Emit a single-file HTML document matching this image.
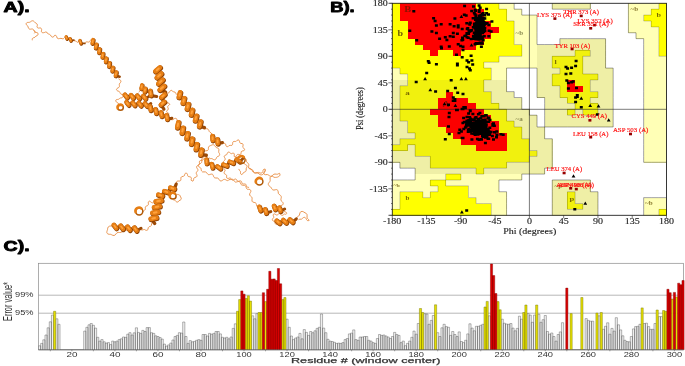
<!DOCTYPE html><html><head><meta charset="utf-8"><title>Figure</title><style>html,body{margin:0;padding:0;background:#fff}body{width:685px;height:366px;overflow:hidden}svg{display:block}</style></head><body>
<svg width="685" height="366" viewBox="0 0 685 366">
<rect width="685" height="366" fill="#fff"/>
<g fill="none" stroke-linecap="round" stroke-linejoin="round">
<path d="M32.3 39.9C32.3 39.7 32.2 39.0 32.3 38.7C32.5 38.3 33.0 38.0 33.3 37.8C33.6 37.7 33.8 37.8 34.1 37.7C34.4 37.5 34.9 37.2 35.2 37.0C35.5 36.7 35.8 36.4 36.0 36.1C36.3 35.9 36.6 35.8 36.9 35.6C37.2 35.3 37.9 35.2 38.0 34.8C38.2 34.4 38.2 33.7 38.0 33.3C37.8 32.9 37.3 32.8 36.8 32.6C36.4 32.4 35.9 32.4 35.5 32.3C35.1 32.1 34.8 31.9 34.5 31.6C34.3 31.3 34.2 30.7 34.0 30.4C33.7 30.0 33.5 29.5 33.1 29.3C32.8 29.0 32.3 29.0 31.9 29.0C31.5 28.9 31.0 29.2 30.5 29.2C30.1 29.2 29.6 29.2 29.3 29.0C28.9 28.8 28.6 28.3 28.4 27.9C28.2 27.5 28.2 27.0 28.0 26.7C27.8 26.3 27.7 26.0 27.4 25.7C27.1 25.4 26.6 25.2 26.5 24.9C26.3 24.5 26.1 23.8 26.2 23.4C26.4 23.0 26.9 22.6 27.3 22.5C27.7 22.3 28.3 22.4 28.7 22.4C29.1 22.3 29.4 22.4 29.8 22.2C30.2 22.1 30.5 21.7 30.9 21.5C31.2 21.3 31.6 20.9 32.1 20.8C32.5 20.7 32.9 20.8 33.3 20.9C33.7 21.1 34.1 21.5 34.4 21.8C34.7 22.1 34.9 22.4 35.2 22.7C35.4 22.9 35.8 22.9 36.1 23.2C36.5 23.4 36.9 23.8 37.1 24.1C37.3 24.5 37.4 24.9 37.4 25.3C37.4 25.7 37.0 26.1 37.0 26.6C37.1 27.0 37.4 27.6 37.7 27.9C38.0 28.1 38.5 28.1 39.0 28.1C39.4 28.1 39.9 27.8 40.3 27.9C40.8 28.0 41.3 28.4 41.5 28.8C41.7 29.1 41.6 29.7 41.6 30.1C41.6 30.6 41.3 31.2 41.4 31.6C41.5 32.0 41.9 32.5 42.3 32.6C42.7 32.8 43.3 32.8 43.7 32.7C44.1 32.7 44.4 32.5 44.7 32.4C45.0 32.2 45.3 32.0 45.7 32.0C46.0 32.0 46.6 32.1 46.9 32.3C47.2 32.5 47.1 32.9 47.3 33.2C47.6 33.5 48.0 33.7 48.4 33.9C48.8 34.1 49.3 34.2 49.6 34.4C50.0 34.6 50.2 34.8 50.5 35.1C50.8 35.4 50.9 35.9 51.2 36.2C51.5 36.6 51.8 37.1 52.3 37.1C52.7 37.2 53.3 37.0 53.7 36.7C54.1 36.4 54.1 35.6 54.5 35.4C54.9 35.2 55.7 35.3 56.1 35.6C56.5 35.8 56.5 36.4 56.7 36.8C56.9 37.2 57.0 37.7 57.2 38.1C57.5 38.4 58.0 38.6 58.4 38.7C58.9 38.8 59.4 38.5 59.8 38.5C60.2 38.4 60.6 38.3 61.0 38.3C61.4 38.4 61.6 38.6 62.0 38.7C62.4 38.8 63.1 38.8 63.4 38.7C63.8 38.6 64.0 38.1 64.3 37.8C64.6 37.5 65.0 37.1 65.1 36.9M33.9 30.4C34.1 30.5 34.6 31.0 34.8 31.3C35.1 31.5 35.4 31.7 35.3 32.0C35.2 32.3 34.6 32.8 34.5 33.0M74.1 40.7C74.3 40.8 75.1 40.9 75.5 41.0C76.0 41.2 76.3 41.5 76.7 41.7C77.1 42.0 77.7 42.5 78.1 42.3C78.4 42.2 78.6 41.2 78.7 41.0M85.6 42.3C85.8 42.2 86.5 41.8 87.0 41.8C87.4 41.8 88.0 42.2 88.5 42.1C89.0 42.1 89.6 41.7 89.9 41.3C90.2 41.0 90.4 40.1 90.5 39.9M118.9 78.8C119.0 79.0 119.3 79.5 119.6 79.8C120.0 80.1 120.6 80.2 120.8 80.6C121.0 81.0 121.0 81.6 120.8 82.0C120.7 82.5 120.1 82.8 119.9 83.1C119.6 83.5 119.4 83.7 119.3 84.1C119.2 84.5 119.4 85.0 119.4 85.5C119.4 86.0 119.5 86.5 119.3 86.9C119.1 87.3 118.8 87.5 118.4 87.7C118.0 88.0 117.4 88.1 117.0 88.5C116.7 88.8 116.4 89.4 116.5 89.8C116.6 90.2 117.2 90.7 117.6 90.9C118.0 91.2 118.5 91.0 118.9 91.2C119.2 91.4 119.4 91.7 119.7 92.1C119.9 92.4 120.1 93.1 120.3 93.4C120.6 93.8 120.8 94.0 121.1 94.2C121.4 94.4 121.9 94.4 122.2 94.7C122.6 95.0 123.1 95.5 123.1 95.9C123.2 96.4 122.9 96.9 122.6 97.3C122.3 97.6 121.6 97.8 121.2 97.9C120.9 98.0 120.7 97.8 120.4 98.0C120.1 98.1 119.7 98.5 119.3 98.7C118.9 99.0 118.5 99.4 118.1 99.5C117.7 99.6 117.4 99.4 117.1 99.4C116.7 99.5 116.1 99.7 115.9 100.0C115.7 100.3 115.7 101.0 115.9 101.4C116.0 101.7 116.5 102.0 116.9 102.3C117.3 102.6 117.9 102.8 118.2 103.1C118.4 103.4 118.5 103.8 118.6 104.2C118.7 104.6 118.6 105.2 118.9 105.5C119.1 105.8 119.8 105.9 120.0 106.0M122.1 94.3C122.3 94.4 123.2 94.5 123.6 94.8C124.0 95.1 124.4 95.8 124.6 96.0M171.1 119.6C171.3 119.6 172.0 119.7 172.5 119.7C172.9 119.6 173.2 119.5 173.6 119.3C174.0 119.1 174.3 118.5 174.8 118.4C175.3 118.2 176.0 118.4 176.4 118.6C176.8 118.9 176.9 119.5 177.0 119.9C177.2 120.3 177.2 120.9 177.4 121.3C177.6 121.6 178.3 121.9 178.5 122.0M163.1 90.2C163.3 90.2 164.0 90.2 164.4 90.4C164.8 90.5 165.2 90.8 165.5 91.1C165.8 91.4 166.0 92.0 166.3 92.4C166.6 92.7 167.0 93.0 167.4 93.1C167.9 93.2 168.5 93.0 168.9 92.8C169.2 92.5 169.3 92.0 169.5 91.7C169.7 91.4 169.9 91.0 170.3 90.8C170.6 90.6 171.3 90.4 171.7 90.4C172.0 90.5 172.1 90.9 172.3 91.1C172.6 91.3 173.0 91.5 173.4 91.7C173.8 91.9 174.5 91.9 174.9 92.1C175.2 92.3 175.5 92.7 175.7 93.0C176.0 93.4 176.1 94.1 176.2 94.3M165.6 100.9C165.8 101.0 166.3 101.4 166.5 101.8C166.8 102.1 166.8 102.8 167.2 103.0C167.5 103.2 168.4 102.9 168.8 103.2C169.2 103.4 169.8 104.1 169.7 104.5C169.6 104.9 168.8 105.3 168.4 105.7C168.1 106.1 167.6 106.3 167.6 106.7C167.5 107.2 168.1 107.8 168.2 108.3C168.3 108.8 168.4 109.2 168.2 109.6C168.0 110.0 167.1 110.2 166.9 110.6C166.6 111.1 166.5 111.8 166.8 112.2C167.0 112.6 167.9 112.6 168.3 112.9C168.7 113.1 168.8 113.8 168.9 114.0M139.0 92.0C139.1 91.8 139.6 91.3 139.9 91.0C140.1 90.6 140.5 90.3 140.6 89.9C140.6 89.5 140.3 88.9 140.2 88.5C140.2 88.0 140.1 87.6 140.2 87.2C140.4 86.8 140.9 86.3 141.0 86.1M203.1 128.6C203.3 128.7 203.8 129.0 204.2 129.1C204.6 129.1 205.1 128.9 205.5 128.9C205.9 128.8 206.4 128.6 206.8 128.7C207.2 128.7 207.6 128.9 208.0 129.2C208.3 129.5 208.6 129.9 208.8 130.3C209.0 130.7 209.0 131.1 209.2 131.4C209.4 131.7 209.7 132.0 210.0 132.3C210.3 132.5 210.8 132.7 211.1 133.0C211.4 133.3 211.7 133.6 211.9 134.0C212.0 134.3 212.1 135.0 212.1 135.2M175.4 183.7C175.6 183.6 176.1 183.3 176.4 182.9C176.6 182.6 176.5 181.8 176.8 181.5C177.1 181.2 177.5 181.1 178.0 181.0C178.4 180.9 179.1 181.1 179.6 181.0C180.0 180.9 180.5 180.7 180.7 180.4C180.9 180.0 180.9 179.4 180.9 178.9C181.0 178.4 180.8 177.8 181.0 177.4C181.2 177.0 181.6 176.8 182.0 176.6C182.4 176.4 183.1 176.4 183.5 176.2C184.0 176.1 184.3 175.9 184.5 175.5C184.7 175.2 184.5 174.5 184.8 174.1C185.0 173.7 185.5 173.0 185.9 173.0C186.4 172.9 187.0 173.5 187.3 173.9C187.6 174.3 187.5 175.0 187.6 175.4C187.8 175.9 187.9 176.3 188.3 176.5C188.7 176.7 189.3 176.6 189.8 176.8C190.2 176.9 190.8 177.1 191.1 177.4C191.4 177.7 191.4 178.2 191.4 178.6C191.4 179.1 190.9 179.8 191.2 180.3C191.5 180.7 192.6 181.2 193.0 181.1C193.4 181.0 193.5 180.1 193.6 179.6C193.8 179.2 193.6 178.6 193.8 178.3C194.0 177.9 194.4 177.7 194.8 177.5C195.2 177.3 195.9 177.2 196.3 177.0C196.7 176.7 197.0 176.3 197.1 175.9C197.1 175.5 196.9 174.9 196.7 174.4C196.6 174.0 196.2 173.6 196.2 173.2C196.2 172.8 196.4 172.4 196.6 172.0C196.9 171.6 197.5 171.2 197.7 170.8C197.9 170.4 198.0 170.0 197.9 169.6C197.8 169.2 197.3 168.8 197.1 168.3C196.8 167.9 196.5 167.4 196.5 167.0C196.5 166.6 196.9 166.1 197.3 165.8C197.7 165.5 198.4 165.4 198.7 165.1C199.1 164.8 199.4 164.6 199.5 164.2C199.6 163.8 199.4 163.2 199.4 162.7C199.4 162.2 199.3 161.6 199.5 161.2C199.7 160.9 200.1 160.7 200.6 160.5C201.0 160.3 201.7 160.4 202.1 160.3C202.6 160.2 202.8 160.1 203.1 159.8C203.4 159.5 203.5 158.8 203.8 158.6C204.1 158.3 204.8 158.3 205.0 158.3M177.0 194.3C177.2 194.3 177.8 194.5 178.2 194.6C178.6 194.7 179.1 194.6 179.4 194.9C179.8 195.1 180.0 195.7 180.2 196.1C180.4 196.4 180.4 196.7 180.6 197.0C180.8 197.3 181.1 197.6 181.2 198.0C181.3 198.4 181.3 199.0 181.1 199.4C180.9 199.7 180.4 200.0 180.0 200.2C179.7 200.5 179.2 200.6 178.9 200.8C178.6 201.1 178.6 201.5 178.3 201.7C178.0 201.9 177.4 202.2 177.0 202.1C176.6 202.0 176.2 201.6 175.9 201.3C175.6 201.0 175.4 200.5 175.0 200.3C174.7 200.1 174.0 200.0 173.8 200.0M113.0 225.2C112.8 225.3 112.4 225.8 112.0 226.0C111.6 226.1 111.1 226.0 110.7 226.0C110.2 226.1 109.8 226.0 109.4 226.2C109.0 226.3 108.6 226.6 108.3 226.9C108.1 227.3 107.8 227.8 107.7 228.2C107.6 228.6 107.6 228.9 107.6 229.3C107.5 229.6 107.4 229.9 107.3 230.3C107.2 230.7 106.9 231.1 106.9 231.6C106.8 232.0 106.7 232.5 106.9 232.9C107.1 233.3 107.5 233.7 107.9 234.0C108.3 234.2 108.8 234.2 109.3 234.3C109.7 234.3 110.1 234.3 110.5 234.3C110.9 234.4 111.1 234.5 111.5 234.7C111.9 234.8 112.3 235.2 112.7 235.3C113.2 235.4 113.7 235.5 114.1 235.5C114.5 235.4 114.9 235.2 115.2 234.9C115.6 234.6 115.8 234.2 116.1 233.8C116.4 233.5 116.7 233.1 117.0 232.8C117.4 232.6 117.7 232.5 118.2 232.4C118.6 232.4 119.1 232.5 119.6 232.5C120.0 232.5 120.5 232.5 120.9 232.4C121.3 232.3 121.6 232.1 121.9 231.8C122.3 231.6 122.5 231.1 122.9 230.8C123.2 230.5 123.6 230.2 124.0 230.0C124.4 229.9 124.8 229.9 125.2 229.9C125.6 229.9 126.1 230.2 126.5 230.3C127.0 230.4 127.4 230.6 127.8 230.6C128.2 230.6 128.6 230.5 129.0 230.3C129.4 230.1 129.8 229.7 130.2 229.5C130.5 229.3 130.9 229.1 131.3 229.1C131.7 229.1 132.4 229.3 132.6 229.3M140.8 229.3C141.0 229.4 141.5 229.9 141.9 230.0C142.3 230.0 142.9 229.8 143.3 229.7C143.7 229.6 144.1 229.4 144.5 229.5C144.9 229.6 145.3 230.1 145.7 230.2C146.2 230.3 146.9 230.5 147.2 230.3C147.6 230.1 147.9 229.6 148.0 229.1C148.2 228.6 148.1 228.0 148.3 227.6C148.5 227.2 148.8 227.0 149.2 226.7C149.6 226.5 150.2 226.5 150.6 226.2C151.0 226.0 151.3 225.7 151.5 225.3C151.6 224.9 151.4 224.2 151.5 223.8C151.7 223.4 152.2 223.0 152.3 222.8M143.3 211.3C143.5 211.1 143.9 210.7 144.3 210.4C144.6 210.1 145.1 209.9 145.3 209.5C145.5 209.1 145.3 208.5 145.3 208.0C145.3 207.5 145.3 207.0 145.6 206.6C145.8 206.3 146.4 206.1 146.8 205.9C147.3 205.7 147.9 205.5 148.1 205.1C148.4 204.8 148.4 204.3 148.4 203.8C148.5 203.3 148.2 202.7 148.3 202.2C148.5 201.8 148.9 201.2 149.3 201.1C149.7 201.1 150.4 201.6 150.7 201.9C151.1 202.1 151.3 202.4 151.7 202.6C152.1 202.8 152.8 202.9 153.0 203.0M246.4 159.8C246.4 160.0 246.3 160.7 246.4 161.1C246.4 161.5 246.6 161.9 246.8 162.2C247.1 162.5 247.6 162.8 247.9 163.1C248.3 163.4 248.6 163.7 248.7 164.1C248.9 164.4 248.8 164.9 248.8 165.3C248.8 165.7 248.6 166.2 248.6 166.7C248.6 167.2 248.6 167.7 248.8 168.0C249.0 168.4 249.4 168.7 249.8 168.9C250.2 169.1 250.8 169.1 251.2 169.3C251.6 169.4 252.0 169.5 252.3 169.7C252.6 170.0 252.8 170.3 253.0 170.7C253.2 171.1 253.4 171.6 253.6 172.0C253.9 172.3 254.2 172.7 254.6 172.9C254.9 173.1 255.4 173.1 255.8 173.1C256.3 173.0 256.8 172.8 257.2 172.6C257.6 172.5 258.0 172.3 258.4 172.4C258.8 172.4 259.1 172.5 259.5 172.7C259.9 172.8 260.4 173.1 260.8 173.1C261.3 173.1 261.8 172.9 262.2 172.7C262.5 172.4 262.7 172.0 262.9 171.6C263.0 171.2 262.9 170.6 263.1 170.2C263.3 169.8 263.9 168.9 264.3 168.9C264.6 169.0 265.2 170.2 265.2 170.7C265.2 171.2 264.6 171.4 264.3 171.9C264.1 172.3 263.8 172.7 263.8 173.1C263.8 173.6 264.1 174.2 264.4 174.4C264.8 174.7 265.5 174.7 265.9 174.7C266.4 174.7 266.7 174.5 267.1 174.5C267.5 174.5 267.8 174.7 268.2 174.9C268.6 175.1 269.0 175.5 269.4 175.7C269.7 176.0 270.2 176.2 270.6 176.3C271.0 176.3 271.4 176.2 271.8 176.0C272.2 175.8 272.6 175.4 272.9 175.1C273.3 174.8 273.5 174.5 273.8 174.3C274.2 174.1 274.6 174.1 275.0 174.0C275.4 174.0 275.9 174.2 276.4 174.2C276.8 174.2 277.3 174.3 277.7 174.2C278.1 174.1 278.4 173.7 278.7 173.6C279.0 173.4 279.4 173.2 279.6 173.4C279.8 173.6 280.0 174.3 280.0 174.8C280.0 175.2 279.8 175.6 279.5 175.9C279.2 176.3 278.7 176.5 278.3 176.7C277.9 176.9 277.5 177.1 277.3 177.2C277.0 177.3 277.1 177.2 276.8 177.3C276.5 177.3 275.9 177.4 275.4 177.4C275.0 177.4 274.5 177.4 274.1 177.3C273.7 177.2 273.5 176.9 273.2 176.7C272.9 176.6 272.5 176.3 272.2 176.3C271.8 176.3 271.1 176.4 270.8 176.7C270.4 176.9 270.2 177.4 270.1 177.8C270.0 178.2 270.1 178.8 270.1 179.2C270.1 179.7 270.2 180.1 270.2 180.5C270.2 180.9 270.0 181.2 269.8 181.6C269.6 181.9 269.2 182.2 269.0 182.6C268.7 183.0 268.4 183.4 268.3 183.8C268.3 184.3 268.3 184.7 268.5 185.1C268.7 185.5 269.2 185.9 269.5 186.2C269.8 186.5 270.2 186.6 270.5 186.9C270.7 187.1 270.9 187.3 271.1 187.6C271.3 187.9 271.5 188.4 271.8 188.8C272.0 189.1 272.4 189.6 272.7 189.8C273.1 190.0 273.5 190.1 273.9 190.1C274.3 190.1 274.8 189.9 275.2 189.8C275.7 189.7 276.2 189.5 276.6 189.6C277.0 189.7 277.5 190.0 277.8 190.4C278.0 190.7 278.1 191.3 278.2 191.8C278.3 192.2 278.2 192.7 278.3 193.1C278.4 193.5 278.5 193.8 278.8 194.1C279.1 194.4 279.5 194.6 279.9 194.9C280.2 195.2 280.7 195.5 280.9 195.8C281.1 196.2 281.3 196.5 281.3 196.9C281.4 197.4 281.2 197.9 281.1 198.3C281.0 198.8 280.9 199.2 280.9 199.7C280.9 200.1 281.0 200.4 281.2 200.8C281.4 201.1 281.9 201.4 282.2 201.7C282.5 202.1 282.9 202.4 283.1 202.8C283.2 203.2 283.3 203.8 283.2 204.2C283.0 204.6 282.4 205.0 282.0 205.2C281.6 205.4 281.2 205.4 280.9 205.6C280.5 205.8 280.1 206.3 280.0 206.5M230.0 179.5C230.2 179.5 230.8 179.6 231.2 179.6C231.7 179.5 232.2 179.2 232.6 179.3C233.0 179.4 233.3 179.9 233.6 180.2C233.9 180.5 234.1 181.1 234.5 181.4C234.8 181.7 235.1 182.0 235.5 182.1C235.9 182.2 236.4 182.0 236.8 181.9C237.3 181.8 237.8 181.5 238.3 181.5C238.7 181.5 239.2 181.5 239.5 181.7C239.9 181.9 240.2 182.4 240.4 182.8C240.6 183.2 240.7 183.8 241.0 184.2C241.2 184.6 241.4 184.9 241.8 185.1C242.1 185.2 242.6 185.2 243.1 185.3C243.6 185.3 244.2 185.3 244.6 185.4C245.0 185.5 245.4 185.7 245.6 186.0C245.9 186.3 246.0 186.8 246.1 187.3C246.3 187.7 246.4 188.3 246.7 188.7C247.0 189.0 247.4 189.3 247.8 189.4C248.2 189.4 248.6 189.2 249.0 189.3C249.5 189.4 250.1 189.6 250.4 189.9C250.7 190.3 250.9 190.8 250.9 191.2C250.9 191.6 250.6 192.1 250.4 192.5C250.2 193.0 249.8 193.4 249.7 193.8C249.6 194.3 249.6 194.7 249.7 195.1C249.9 195.4 250.3 195.8 250.6 196.2C251.0 196.5 251.5 196.8 251.7 197.1C252.0 197.4 252.1 197.7 252.1 198.1C252.2 198.5 252.0 199.0 252.0 199.5C252.0 200.0 251.9 200.5 252.0 201.0C252.1 201.4 252.4 201.7 252.7 202.0C253.1 202.2 253.7 202.3 254.1 202.4C254.6 202.6 255.1 202.6 255.5 202.8C255.9 203.1 256.1 203.4 256.3 203.8C256.4 204.1 256.4 204.7 256.5 205.2C256.6 205.7 256.7 206.3 257.0 206.6C257.2 206.9 257.8 206.9 258.2 207.0C258.7 207.1 259.3 207.2 259.5 207.2M284.1 210.5C284.2 210.7 284.3 211.4 284.6 211.7C284.9 212.0 285.7 211.8 286.0 212.1C286.4 212.4 286.9 213.0 286.8 213.4C286.7 213.7 285.9 214.2 285.5 214.3C285.1 214.3 284.9 213.9 284.5 214.0C284.1 214.1 283.7 214.6 283.3 214.9C282.9 215.1 282.4 215.5 282.0 215.5C281.6 215.4 281.2 214.9 280.9 214.6C280.5 214.3 280.1 213.7 279.7 213.6C279.3 213.5 278.9 213.8 278.4 214.0C278.0 214.2 277.6 214.8 277.2 215.0C276.8 215.1 276.4 215.0 276.0 214.8C275.6 214.6 275.0 213.9 274.6 213.9C274.1 213.9 273.4 214.2 273.2 214.6C273.0 215.0 273.4 215.8 273.5 216.2C273.6 216.7 273.9 217.0 273.8 217.4C273.7 217.8 273.1 218.1 272.8 218.6C272.6 219.0 272.2 219.5 272.3 219.9C272.4 220.3 272.9 220.7 273.2 221.0C273.6 221.3 274.2 221.3 274.5 221.6C274.8 221.9 274.8 222.3 275.0 222.7C275.1 223.1 275.2 223.7 275.5 224.0C275.8 224.3 276.5 224.3 276.7 224.4M296.4 220.3C296.4 220.1 296.5 219.5 296.5 219.1C296.5 218.7 296.4 218.2 296.5 217.8C296.7 217.4 297.1 217.1 297.5 216.8C297.8 216.6 298.3 216.3 298.6 216.1C298.9 215.8 299.1 215.6 299.3 215.2C299.5 214.9 299.6 214.4 299.7 214.0C299.8 213.6 299.8 213.1 300.0 212.7C300.2 212.3 300.5 211.9 300.9 211.7C301.3 211.5 301.8 211.4 302.2 211.4C302.7 211.5 303.1 211.6 303.4 211.8C303.7 211.9 303.7 212.1 304.0 212.2C304.3 212.4 304.7 212.6 305.1 212.8C305.4 213.0 305.9 213.2 306.3 213.5C306.6 213.8 306.9 214.2 307.0 214.5C307.1 214.9 307.1 215.4 307.1 215.8C307.1 216.2 307.0 216.8 307.0 217.2C307.1 217.6 307.2 218.0 307.4 218.4C307.6 218.7 308.0 218.8 308.3 219.2C308.6 219.6 309.3 220.3 309.1 220.5C308.9 220.7 307.7 220.7 307.3 220.5C306.9 220.4 306.8 219.9 306.5 219.5C306.3 219.1 306.1 218.6 305.9 218.3C305.6 217.9 305.2 217.5 304.8 217.4C304.4 217.3 303.8 217.4 303.4 217.6C303.0 217.8 302.7 218.3 302.3 218.5C302.0 218.8 301.7 219.1 301.4 219.2C301.0 219.3 300.5 219.1 300.1 219.2C299.7 219.2 299.1 219.4 298.9 219.5M222.5 142.3C222.6 142.5 222.9 143.0 223.3 143.2C223.7 143.4 224.4 143.2 224.8 143.4C225.2 143.5 225.4 143.8 225.6 144.2C225.8 144.6 225.8 145.3 226.0 145.7C226.2 146.1 226.5 146.6 226.9 146.7C227.3 146.8 228.0 146.5 228.4 146.3C228.8 146.1 228.8 145.7 229.2 145.5C229.5 145.4 230.0 145.4 230.4 145.4C230.9 145.4 231.6 145.5 232.0 145.3C232.4 145.1 232.5 144.6 232.6 144.2C232.8 143.8 232.5 143.0 232.7 142.6C232.8 142.1 233.0 141.8 233.3 141.6C233.7 141.4 234.5 141.5 234.9 141.4C235.3 141.4 235.7 141.6 236.0 141.4C236.4 141.3 236.6 140.8 237.0 140.5C237.4 140.3 238.0 139.8 238.4 139.9C238.8 139.9 239.2 140.4 239.4 140.9C239.7 141.3 239.5 142.0 239.7 142.4C239.9 142.8 240.1 143.1 240.5 143.3C240.9 143.5 241.6 143.4 242.0 143.6C242.5 143.7 242.9 144.0 243.1 144.3C243.2 144.7 243.0 145.4 243.0 145.8C242.9 146.3 242.7 146.8 242.8 147.2C242.9 147.6 243.3 147.7 243.6 148.1C243.9 148.5 244.6 149.0 244.6 149.4C244.7 149.8 244.3 150.4 243.9 150.7C243.5 151.0 242.8 150.8 242.3 151.0C241.9 151.1 241.6 151.3 241.3 151.6C241.1 152.0 241.2 152.7 241.1 153.1C240.9 153.6 240.8 154.1 240.5 154.4C240.1 154.6 239.6 154.5 239.1 154.5C238.6 154.5 238.0 154.2 237.6 154.4C237.2 154.5 237.0 154.9 236.7 155.2C236.5 155.6 236.5 156.5 236.0 156.7C235.6 156.9 234.6 156.9 234.3 156.7C234.0 156.4 234.3 155.5 234.3 155.0C234.2 154.5 234.4 154.0 234.2 153.6C233.9 153.3 233.1 153.1 232.7 153.2C232.2 153.2 231.8 153.7 231.4 153.7C231.0 153.7 230.7 153.3 230.3 153.1C229.9 152.8 229.5 152.2 229.1 152.1C228.7 152.0 228.1 152.1 227.8 152.4C227.4 152.7 227.3 153.4 227.1 153.8C226.9 154.2 226.9 154.5 226.6 154.7C226.3 154.9 225.6 155.0 225.2 155.3C224.8 155.5 224.3 155.9 224.2 156.2C224.1 156.6 224.4 157.1 224.6 157.6C224.7 158.0 225.2 158.5 225.3 158.9C225.3 159.3 225.1 159.7 224.8 160.1C224.6 160.4 223.9 160.8 223.7 161.2C223.4 161.5 223.3 162.0 223.4 162.4C223.5 162.8 224.1 163.2 224.4 163.6C224.6 164.0 224.9 164.4 224.9 164.8C224.8 165.2 224.3 165.6 224.1 166.0C223.8 166.4 223.3 166.9 223.3 167.3C223.2 167.7 223.5 168.1 223.8 168.5C224.1 168.8 224.7 169.2 224.9 169.5C225.1 169.9 225.2 170.3 225.0 170.7C224.9 171.2 224.4 171.7 224.2 172.1C224.1 172.5 224.0 173.0 224.2 173.4C224.4 173.7 225.0 174.0 225.4 174.3C225.8 174.6 226.3 174.7 226.5 175.1C226.8 175.4 226.6 175.8 226.6 176.3C226.7 176.8 226.5 177.5 226.7 177.9C226.9 178.2 227.5 178.5 228.0 178.5C228.4 178.6 229.0 178.1 229.5 178.0C229.9 178.0 230.3 178.0 230.7 178.2C231.0 178.4 231.3 179.1 231.6 179.4C231.9 179.7 232.3 180.1 232.7 180.2C233.1 180.2 233.6 179.8 234.0 179.6C234.5 179.4 234.9 179.0 235.4 179.0C235.8 179.0 236.1 179.3 236.5 179.6C236.8 179.9 237.0 180.6 237.4 180.9C237.7 181.2 238.0 181.3 238.4 181.3C238.9 181.3 239.5 180.9 239.9 180.9C240.4 180.9 240.9 180.9 241.2 181.2C241.6 181.4 241.6 182.1 241.8 182.5C242.0 183.0 242.1 183.6 242.4 183.8C242.7 184.1 243.2 184.0 243.7 184.0C244.2 184.1 244.8 183.8 245.2 184.0C245.7 184.1 245.9 184.4 246.1 184.8C246.3 185.2 246.2 186.0 246.5 186.4C246.7 186.7 247.1 186.9 247.5 187.1C247.8 187.2 248.5 187.3 248.7 187.4M243.8 162.8C243.9 163.0 244.1 163.6 244.4 163.9C244.7 164.2 245.1 164.4 245.5 164.6C245.8 164.8 246.4 164.9 246.6 165.2C246.9 165.5 247.1 166.0 247.1 166.5C247.0 166.9 246.7 167.3 246.6 167.6C246.5 168.0 246.3 168.3 246.2 168.7C246.2 169.1 246.3 169.6 246.2 170.0C246.1 170.5 246.1 171.0 245.8 171.3C245.6 171.6 245.1 171.8 244.7 172.0C244.3 172.2 243.8 172.3 243.5 172.6C243.2 172.8 243.1 173.2 242.9 173.5C242.6 173.9 242.3 174.6 242.0 174.6C241.6 174.7 240.9 174.3 240.7 173.9C240.4 173.6 240.6 173.0 240.5 172.5C240.5 172.1 240.5 171.7 240.4 171.3C240.2 170.9 239.7 170.7 239.5 170.4C239.2 170.0 239.0 169.5 238.9 169.3M248.7 167.7C248.9 167.8 249.3 168.3 249.7 168.5C250.0 168.7 250.5 168.7 250.9 168.9C251.2 169.2 251.5 169.4 251.8 169.8C252.0 170.1 252.2 170.5 252.4 170.9C252.7 171.3 252.9 171.7 253.2 172.0C253.5 172.3 253.9 172.5 254.3 172.6C254.7 172.8 255.2 172.7 255.6 172.8C256.1 172.8 256.5 172.7 256.9 172.8C257.3 172.9 257.7 173.0 258.1 173.2C258.4 173.4 258.8 173.7 259.1 174.0C259.5 174.2 259.8 174.5 260.2 174.7C260.6 174.8 261.1 174.9 261.5 174.9C261.9 174.8 262.4 174.6 262.8 174.4C263.1 174.2 263.4 173.9 263.6 173.7C263.8 173.4 263.9 173.1 264.1 172.8C264.3 172.5 264.6 172.1 264.8 171.7C264.9 171.4 265.1 171.0 265.2 170.5C265.3 170.1 265.1 169.5 265.1 169.3M202.8 153.0C203.0 152.9 203.5 152.7 203.8 152.4C204.1 152.1 204.3 151.5 204.6 151.3C204.9 151.0 205.3 150.9 205.7 150.8C206.2 150.7 206.7 150.8 207.1 150.7C207.5 150.5 208.0 150.3 208.2 149.9C208.4 149.6 208.4 149.0 208.4 148.5C208.5 148.1 208.4 147.6 208.5 147.2C208.6 146.9 208.9 146.5 209.2 146.2C209.6 145.9 210.1 145.7 210.4 145.6C210.7 145.4 210.9 145.4 211.2 145.3C211.5 145.2 212.0 144.9 212.4 144.8C212.8 144.8 213.4 144.7 213.7 144.8C214.1 144.9 214.5 145.3 214.8 145.6C215.0 145.9 215.2 146.5 215.5 146.8C215.7 147.1 216.0 147.3 216.3 147.5C216.7 147.7 217.2 147.8 217.6 148.0C218.0 148.2 218.5 148.4 218.7 148.8C218.9 149.1 218.9 149.6 218.9 150.1C218.9 150.5 218.7 151.0 218.7 151.4C218.7 151.8 218.7 152.2 218.8 152.5C219.0 152.9 219.4 153.3 219.5 153.7C219.6 154.1 219.8 154.7 219.6 155.1C219.5 155.5 219.0 155.8 218.7 156.1C218.3 156.3 217.8 156.4 217.4 156.6C217.1 156.9 216.8 157.1 216.6 157.5C216.4 157.8 216.3 158.3 216.1 158.7C215.8 159.1 215.6 159.5 215.2 159.7C214.8 159.9 214.2 159.9 213.8 159.7C213.4 159.6 213.1 159.2 212.7 159.0C212.4 158.8 212.1 158.7 211.7 158.6C211.3 158.5 210.7 158.7 210.3 158.6C209.9 158.4 209.5 158.0 209.3 157.9M200.0 150.0C200.1 150.2 200.5 150.6 200.6 151.1C200.7 151.5 200.4 152.1 200.5 152.5C200.5 152.9 200.7 153.3 201.0 153.6C201.2 153.9 201.8 154.1 202.2 154.4C202.5 154.7 203.1 154.9 203.3 155.3C203.5 155.7 203.6 156.2 203.6 156.6C203.5 157.1 203.1 157.6 202.8 157.9C202.6 158.3 202.1 158.5 201.9 158.8C201.8 159.2 201.7 159.5 201.7 159.9C201.7 160.4 201.8 161.0 201.8 161.4C201.7 161.9 201.7 162.4 201.5 162.7C201.3 163.1 200.8 163.3 200.4 163.5C200.0 163.7 199.4 163.8 199.0 164.1C198.7 164.4 198.2 164.9 198.2 165.4C198.2 165.8 198.5 166.4 198.8 166.7C199.2 167.1 199.7 167.2 200.1 167.5C200.4 167.7 200.7 167.9 200.9 168.3C201.1 168.6 201.1 169.1 201.2 169.6C201.3 170.0 201.3 170.7 201.6 171.0C201.8 171.4 202.1 171.7 202.5 171.9C202.9 172.0 203.5 171.9 204.0 171.9C204.5 172.0 205.0 171.8 205.4 171.9C205.8 172.0 206.1 172.1 206.4 172.4C206.7 172.7 207.0 173.3 207.3 173.6C207.6 174.0 207.9 174.4 208.3 174.6C208.7 174.7 209.1 174.7 209.5 174.6C210.0 174.5 210.5 174.2 211.0 174.2C211.4 174.1 211.9 174.0 212.3 174.2C212.7 174.4 213.0 174.8 213.2 175.3C213.5 175.7 213.5 176.3 213.7 176.7C213.9 177.1 214.1 177.5 214.5 177.7C214.8 177.9 215.3 177.9 215.8 178.0C216.3 178.0 216.9 177.9 217.3 178.0C217.7 178.1 218.1 178.2 218.4 178.5C218.7 178.7 218.8 179.2 219.1 179.6C219.4 180.0 219.7 180.5 220.1 180.8C220.5 181.0 221.0 181.0 221.4 180.9C221.8 180.8 222.3 180.4 222.7 180.2C223.1 179.9 223.5 179.5 223.9 179.4C224.3 179.3 224.7 179.3 225.1 179.5C225.5 179.6 226.0 180.0 226.4 180.2C226.8 180.4 227.3 180.7 227.7 180.6C228.1 180.6 228.4 180.1 228.8 179.9C229.2 179.8 229.8 179.6 230.0 179.5" stroke="#e68a3e" stroke-width="0.9"/>
<path d="M66.8 38.8L69.9 38.3M70.8 40.7L73.9 40.2" stroke="#9c4a06" stroke-width="1.8"/>
<path d="M80.8 43.4L84.8 43.4" stroke="#9c4a06" stroke-width="1.9"/>
<path d="M92.3 43.2L96.4 44.4M95.6 47.8L99.7 49.0M98.9 52.5L103.0 53.6M102.3 57.1L106.3 58.2M105.6 61.7L109.6 62.9M108.9 66.3L113.0 67.5M112.2 71.0L116.3 72.1M115.5 75.6L119.6 76.7" stroke="#9c4a06" stroke-width="2.6"/>
<path d="M127.1 97.6L130.8 94.9M133.2 98.0L137.0 95.3M139.4 98.4L143.1 95.7M145.5 98.8L149.3 96.1M128.7 105.0L132.4 102.3M134.8 105.4L138.6 102.7M141.0 105.8L144.7 103.1M147.1 106.2L150.9 103.5M141.3 88.5L145.3 88.4M144.6 91.8L148.5 91.7M206.7 163.6L211.6 163.8M212.6 167.8L217.2 166.2M220.5 168.7L223.1 164.4M226.9 165.9L229.5 161.5M233.3 163.2L236.4 159.3M239.8 161.7L243.2 158.2" stroke="#9c4a06" stroke-width="2.8"/>
<path d="M155.6 71.2L161.2 73.7M157.0 77.4L162.6 79.8M158.5 83.5L164.1 86.0M159.9 89.7L165.5 92.1M177.4 127.3L183.0 127.9M182.0 132.7L187.7 133.4M186.7 138.2L192.3 138.8M191.3 143.7L197.0 144.3M196.0 149.1L201.6 149.8M200.6 154.6L206.3 155.2M179.0 97.0L184.2 98.3M183.0 102.8L188.3 104.2M187.1 108.7L192.3 110.0M191.2 114.5L196.4 115.9M195.2 120.4L200.5 121.7M199.3 126.2L204.5 127.6M155.9 201.5L159.6 206.2M154.2 207.3L158.0 212.0M152.6 213.0L156.3 217.7M150.9 218.8L154.7 223.5" stroke="#9c4a06" stroke-width="3.4"/>
<path d="M150.9 95.4L156.7 96.4M150.7 110.1L155.4 109.2M156.2 113.2L160.9 112.2M161.7 116.2L166.4 115.2M167.2 119.2L171.9 118.2M116.2 228.2L120.5 225.6M123.0 229.1L127.3 226.5M129.8 230.0L134.2 227.4M136.6 230.8L141.0 228.3M260.5 210.5L265.1 209.1M266.2 213.0L270.8 211.6M275.2 209.4L279.2 207.4M280.5 211.0L284.6 209.0M279.6 223.3L283.1 219.9M286.2 222.7L289.7 219.3M292.7 222.2L296.3 218.8" stroke="#9c4a06" stroke-width="3.0"/>
<path d="M161.3 97.3L164.3 101.8M160.9 104.7L163.9 109.2M212.7 140.2L217.4 139.3M217.7 143.5L222.4 142.6M162.3 195.9L164.2 191.1M168.3 192.4L170.2 187.6M174.3 188.9L176.2 184.1" stroke="#9c4a06" stroke-width="3.2"/>
<g transform="translate(0.45,0.6)">
<path d="M65.9 36.4L66.8 38.8M69.9 38.3L70.8 40.7" stroke="#8f4204" stroke-width="3.3"/>
<path d="M79.7 40.3L80.8 43.4" stroke="#8f4204" stroke-width="3.5"/>
<path d="M93.1 39.7L92.3 43.2M96.4 44.4L95.6 47.8M99.7 49.0L98.9 52.5M103.0 53.6L102.3 57.1M106.3 58.2L105.6 61.7M109.6 62.9L108.9 66.3M113.0 67.5L112.2 71.0M116.3 72.1L115.5 75.6" stroke="#8f4204" stroke-width="4.4"/>
<path d="M124.7 94.5L127.1 97.6M130.8 94.9L133.2 98.0M137.0 95.3L139.4 98.4M143.1 95.7L145.5 98.8M126.3 101.9L128.7 105.0M132.4 102.3L134.8 105.4M138.6 102.7L141.0 105.8M144.7 103.1L147.1 106.2M206.4 159.4L206.7 163.6M211.6 163.8L212.6 167.8M217.2 166.2L220.5 168.7M223.1 164.4L226.9 165.9M229.5 161.5L233.3 163.2M236.4 159.3L239.8 161.7" stroke="#8f4204" stroke-width="4.8"/>
<path d="M159.8 67.5L155.6 71.2M161.2 73.7L157.0 77.4M162.6 79.8L158.5 83.5M164.1 86.0L159.9 89.7M178.4 122.4L177.4 127.3M183.0 127.9L182.0 132.7M187.7 133.4L186.7 138.2M192.3 138.8L191.3 143.7M197.0 144.3L196.0 149.1M201.6 149.8L200.6 154.6M180.1 92.5L179.0 97.0M184.2 98.3L183.0 102.8M188.3 104.2L187.1 108.7M192.3 110.0L191.2 114.5M196.4 115.9L195.2 120.4M200.5 121.7L199.3 126.2M161.3 200.5L155.9 201.5M159.6 206.2L154.2 207.3M158.0 212.0L152.6 213.0M156.3 217.7L150.9 218.8" stroke="#8f4204" stroke-width="5.6"/>
<path d="M142.0 85.1L141.3 88.5M145.3 88.4L144.6 91.8" stroke="#8f4204" stroke-width="4.6"/>
<path d="M150.2 90.7L150.9 95.4" stroke="#8f4204" stroke-width="4.9"/>
<path d="M164.7 94.4L161.3 97.3M164.3 101.8L160.9 104.7M212.4 136.0L212.7 140.2M217.4 139.3L217.7 143.5M158.2 194.6L162.3 195.9M164.2 191.1L168.3 192.4M170.2 187.6L174.3 188.9" stroke="#8f4204" stroke-width="5.2"/>
<path d="M150.0 106.1L150.7 110.1M155.4 109.2L156.2 113.2M160.9 112.2L161.7 116.2M166.4 115.2L167.2 119.2M113.7 224.8L116.2 228.2M120.5 225.6L123.0 229.1M127.3 226.5L129.8 230.0M134.2 227.4L136.6 230.8M259.3 206.6L260.5 210.5M265.1 209.1L266.2 213.0M273.9 205.7L275.2 209.4M279.2 207.4L280.5 211.0M276.6 220.5L279.6 223.3M283.1 219.9L286.2 222.7M289.7 219.3L292.7 222.2" stroke="#8f4204" stroke-width="5.0"/>
</g>
<path d="M65.9 36.4L66.8 38.8M69.9 38.3L70.8 40.7" stroke="#e67e14" stroke-width="2.6"/>
<path d="M79.7 40.3L80.8 43.4" stroke="#e67e14" stroke-width="2.8"/>
<path d="M93.1 39.7L92.3 43.2M96.4 44.4L95.6 47.8M99.7 49.0L98.9 52.5M103.0 53.6L102.3 57.1M106.3 58.2L105.6 61.7M109.6 62.9L108.9 66.3M113.0 67.5L112.2 71.0M116.3 72.1L115.5 75.6" stroke="#e67e14" stroke-width="3.7"/>
<path d="M124.7 94.5L127.1 97.6M130.8 94.9L133.2 98.0M137.0 95.3L139.4 98.4M143.1 95.7L145.5 98.8M126.3 101.9L128.7 105.0M132.4 102.3L134.8 105.4M138.6 102.7L141.0 105.8M144.7 103.1L147.1 106.2M206.4 159.4L206.7 163.6M211.6 163.8L212.6 167.8M217.2 166.2L220.5 168.7M223.1 164.4L226.9 165.9M229.5 161.5L233.3 163.2M236.4 159.3L239.8 161.7" stroke="#e67e14" stroke-width="4.1"/>
<path d="M159.8 67.5L155.6 71.2M161.2 73.7L157.0 77.4M162.6 79.8L158.5 83.5M164.1 86.0L159.9 89.7M178.4 122.4L177.4 127.3M183.0 127.9L182.0 132.7M187.7 133.4L186.7 138.2M192.3 138.8L191.3 143.7M197.0 144.3L196.0 149.1M201.6 149.8L200.6 154.6M180.1 92.5L179.0 97.0M184.2 98.3L183.0 102.8M188.3 104.2L187.1 108.7M192.3 110.0L191.2 114.5M196.4 115.9L195.2 120.4M200.5 121.7L199.3 126.2M161.3 200.5L155.9 201.5M159.6 206.2L154.2 207.3M158.0 212.0L152.6 213.0M156.3 217.7L150.9 218.8" stroke="#e67e14" stroke-width="4.9"/>
<path d="M142.0 85.1L141.3 88.5M145.3 88.4L144.6 91.8" stroke="#e67e14" stroke-width="3.9"/>
<path d="M150.2 90.7L150.9 95.4" stroke="#e67e14" stroke-width="4.2"/>
<path d="M164.7 94.4L161.3 97.3M164.3 101.8L160.9 104.7M212.4 136.0L212.7 140.2M217.4 139.3L217.7 143.5M158.2 194.6L162.3 195.9M164.2 191.1L168.3 192.4M170.2 187.6L174.3 188.9" stroke="#e67e14" stroke-width="4.5"/>
<path d="M150.0 106.1L150.7 110.1M155.4 109.2L156.2 113.2M160.9 112.2L161.7 116.2M166.4 115.2L167.2 119.2M113.7 224.8L116.2 228.2M120.5 225.6L123.0 229.1M127.3 226.5L129.8 230.0M134.2 227.4L136.6 230.8M259.3 206.6L260.5 210.5M265.1 209.1L266.2 213.0M273.9 205.7L275.2 209.4M279.2 207.4L280.5 211.0M276.6 220.5L279.6 223.3M283.1 219.9L286.2 222.7M289.7 219.3L292.7 222.2" stroke="#e67e14" stroke-width="4.3"/>
<path d="M66.1 37.0L66.6 38.2M70.1 38.9L70.6 40.1" stroke="#ffa23c" stroke-width="1.0"/>
<path d="M80.0 41.1L80.5 42.6" stroke="#ffa23c" stroke-width="1.1"/>
<path d="M92.9 40.6L92.5 42.3M96.2 45.2L95.8 47.0M99.5 49.9L99.1 51.6M102.8 54.5L102.4 56.2M106.1 59.1L105.8 60.8M109.4 63.7L109.1 65.5M112.8 68.4L112.4 70.1M116.1 73.0L115.7 74.7" stroke="#ffa23c" stroke-width="1.5"/>
<path d="M125.3 95.3L126.5 96.9M131.4 95.7L132.6 97.3M137.6 96.1L138.8 97.7M143.7 96.5L144.9 98.1M126.9 102.7L128.1 104.3M133.0 103.1L134.2 104.7M139.2 103.5L140.4 105.1M145.3 103.9L146.5 105.5M141.8 85.9L141.5 87.6M145.1 89.2L144.8 90.9M206.5 160.4L206.6 162.5M211.9 164.8L212.4 166.8M218.0 166.8L219.6 168.1M224.0 164.7L225.9 165.5M230.4 162.0L232.3 162.8M237.2 159.9L238.9 161.1" stroke="#ffa23c" stroke-width="1.6"/>
<path d="M158.7 68.5L156.7 70.3M160.2 74.6L158.1 76.5M161.6 80.8L159.5 82.6M163.0 86.9L160.9 88.8M178.1 123.6L177.6 126.1M182.8 129.1L182.3 131.5M187.4 134.6L186.9 137.0M192.1 140.0L191.6 142.5M196.7 145.5L196.2 147.9M201.4 151.0L200.9 153.4M159.9 200.7L157.2 201.3M158.3 206.5L155.6 207.0M156.6 212.2L153.9 212.8M155.0 218.0L152.3 218.5" stroke="#ffa23c" stroke-width="2.0"/>
<path d="M150.4 91.9L150.7 94.3M150.2 107.1L150.5 109.1M155.6 110.2L156.0 112.2M161.1 113.2L161.5 115.2M166.6 116.2L167.0 118.2M114.3 225.6L115.6 227.3M121.1 226.5L122.4 228.2M128.0 227.4L129.2 229.1M134.8 228.2L136.0 230.0M259.6 207.5L260.2 209.5M265.4 210.0L266.0 212.0M274.2 206.6L274.9 208.5M279.5 208.3L280.2 210.1M277.3 221.2L278.8 222.6M283.9 220.6L285.4 222.0M290.5 220.0L292.0 221.5" stroke="#ffa23c" stroke-width="1.7"/>
<path d="M163.9 95.1L162.2 96.6M163.5 102.5L161.8 104.0M212.5 137.1L212.6 139.1M217.5 140.4L217.6 142.4M159.2 194.9L161.3 195.6M165.2 191.4L167.3 192.1M171.2 187.9L173.3 188.6" stroke="#ffa23c" stroke-width="1.8"/>
<path d="M179.9 93.6L179.3 95.8M183.9 99.5L183.3 101.7M188.0 105.3L187.4 107.5M192.1 111.2L191.5 113.4M196.1 117.0L195.5 119.2M200.2 122.9L199.6 125.1" stroke="#ffa23c" stroke-width="1.9"/>
<circle cx="120.5" cy="107.5" r="2.8" stroke="#b05a08" stroke-width="1.5"/>
<path d="M117.7 108.3A2.8 2.8 0 0 1 122.2 105.3" stroke="#e67e14" stroke-width="2.6"/>
<circle cx="241.5" cy="159.8" r="3.6" stroke="#b05a08" stroke-width="1.5"/>
<path d="M237.9 160.6A3.6 3.6 0 0 1 243.7 156.9" stroke="#e67e14" stroke-width="2.6"/>
<circle cx="173.0" cy="196.0" r="3.1" stroke="#b05a08" stroke-width="1.5"/>
<path d="M169.9 196.8A3.1 3.1 0 0 1 174.9 193.5" stroke="#e67e14" stroke-width="2.6"/>
<circle cx="139.2" cy="211.3" r="3.6" stroke="#b05a08" stroke-width="1.5"/>
<path d="M135.6 212.1A3.6 3.6 0 0 1 141.4 208.4" stroke="#e67e14" stroke-width="2.6"/>
<circle cx="259.4" cy="181.6" r="3.5" stroke="#b05a08" stroke-width="1.5"/>
<path d="M255.9 182.4A3.5 3.5 0 0 1 261.5 178.8" stroke="#e67e14" stroke-width="2.6"/>
</g>
<g shape-rendering="crispEdges">
<rect x="392.30" y="3.30" width="7.92" height="6.19" fill="#ffff00"/>
<rect x="399.92" y="3.30" width="76.47" height="6.19" fill="#ff0000"/>
<rect x="476.08" y="3.30" width="23.15" height="6.19" fill="#ffff00"/>
<rect x="498.93" y="3.30" width="15.53" height="6.19" fill="#ffffb6"/>
<rect x="552.25" y="3.30" width="38.38" height="6.19" fill="#efefa6"/>
<rect x="628.42" y="3.30" width="30.77" height="6.19" fill="#ffffb6"/>
<rect x="658.88" y="3.30" width="7.92" height="6.19" fill="#ffff00"/>
<rect x="392.30" y="9.19" width="7.92" height="6.19" fill="#ffff00"/>
<rect x="399.92" y="9.19" width="84.08" height="6.19" fill="#ff0000"/>
<rect x="483.70" y="9.19" width="23.15" height="6.19" fill="#ffff00"/>
<rect x="506.55" y="9.19" width="15.53" height="6.19" fill="#ffffb6"/>
<rect x="628.42" y="9.19" width="23.15" height="6.19" fill="#ffffb6"/>
<rect x="651.27" y="9.19" width="15.53" height="6.19" fill="#ffff00"/>
<rect x="392.30" y="15.08" width="7.92" height="6.19" fill="#ffff00"/>
<rect x="399.92" y="15.08" width="84.08" height="6.19" fill="#ff0000"/>
<rect x="483.70" y="15.08" width="23.15" height="6.19" fill="#ffff00"/>
<rect x="506.55" y="15.08" width="30.77" height="6.19" fill="#ffffb6"/>
<rect x="628.42" y="15.08" width="15.53" height="6.19" fill="#ffffb6"/>
<rect x="643.65" y="15.08" width="23.15" height="6.19" fill="#ffff00"/>
<rect x="392.30" y="20.97" width="15.53" height="6.19" fill="#ffff00"/>
<rect x="407.53" y="20.97" width="84.08" height="6.19" fill="#ff0000"/>
<rect x="491.32" y="20.97" width="23.15" height="6.19" fill="#ffff00"/>
<rect x="514.17" y="20.97" width="23.15" height="6.19" fill="#ffffb6"/>
<rect x="628.42" y="20.97" width="23.15" height="6.19" fill="#ffffb6"/>
<rect x="651.27" y="20.97" width="15.53" height="6.19" fill="#ffff00"/>
<rect x="392.30" y="26.86" width="15.53" height="6.19" fill="#ffff00"/>
<rect x="407.53" y="26.86" width="91.70" height="6.19" fill="#ff0000"/>
<rect x="498.93" y="26.86" width="15.53" height="6.19" fill="#ffff00"/>
<rect x="514.17" y="26.86" width="23.15" height="6.19" fill="#ffffb6"/>
<rect x="628.42" y="26.86" width="30.77" height="6.19" fill="#ffffb6"/>
<rect x="658.88" y="26.86" width="7.92" height="6.19" fill="#ffff00"/>
<rect x="392.30" y="32.74" width="15.53" height="6.19" fill="#ffff00"/>
<rect x="407.53" y="32.74" width="84.08" height="6.19" fill="#ff0000"/>
<rect x="491.32" y="32.74" width="23.15" height="6.19" fill="#ffff00"/>
<rect x="514.17" y="32.74" width="23.15" height="6.19" fill="#ffffb6"/>
<rect x="636.03" y="32.74" width="23.15" height="6.19" fill="#ffffb6"/>
<rect x="658.88" y="32.74" width="7.92" height="6.19" fill="#ffff00"/>
<rect x="392.30" y="38.63" width="23.15" height="6.19" fill="#ffff00"/>
<rect x="415.15" y="38.63" width="68.85" height="6.19" fill="#ff0000"/>
<rect x="483.70" y="38.63" width="30.77" height="6.19" fill="#ffff00"/>
<rect x="514.17" y="38.63" width="23.15" height="6.19" fill="#ffffb6"/>
<rect x="559.87" y="38.63" width="46.00" height="6.19" fill="#efefa6"/>
<rect x="643.65" y="38.63" width="15.53" height="6.19" fill="#ffffb6"/>
<rect x="658.88" y="38.63" width="7.92" height="6.19" fill="#ffff00"/>
<rect x="392.30" y="44.52" width="30.77" height="6.19" fill="#ffff00"/>
<rect x="422.77" y="44.52" width="53.62" height="6.19" fill="#ff0000"/>
<rect x="476.08" y="44.52" width="46.00" height="6.19" fill="#ffff00"/>
<rect x="521.78" y="44.52" width="15.53" height="6.19" fill="#ffffb6"/>
<rect x="537.02" y="44.52" width="68.85" height="6.19" fill="#efefa6"/>
<rect x="643.65" y="44.52" width="15.53" height="6.19" fill="#ffffb6"/>
<rect x="658.88" y="44.52" width="7.92" height="6.19" fill="#ffff00"/>
<rect x="392.30" y="50.41" width="38.38" height="6.19" fill="#ffff00"/>
<rect x="430.38" y="50.41" width="7.92" height="6.19" fill="#ff0000"/>
<rect x="438.00" y="50.41" width="15.53" height="6.19" fill="#ffff00"/>
<rect x="453.23" y="50.41" width="7.92" height="6.19" fill="#ff0000"/>
<rect x="460.85" y="50.41" width="61.23" height="6.19" fill="#ffff00"/>
<rect x="521.78" y="50.41" width="15.53" height="6.19" fill="#ffffb6"/>
<rect x="537.02" y="50.41" width="38.38" height="6.19" fill="#efefa6"/>
<rect x="575.10" y="50.41" width="15.53" height="6.19" fill="#f1f10e"/>
<rect x="590.33" y="50.41" width="15.53" height="6.19" fill="#efefa6"/>
<rect x="643.65" y="50.41" width="15.53" height="6.19" fill="#ffffb6"/>
<rect x="658.88" y="50.41" width="7.92" height="6.19" fill="#ffff00"/>
<rect x="392.30" y="56.30" width="106.93" height="6.19" fill="#ffff00"/>
<rect x="498.93" y="56.30" width="38.38" height="6.19" fill="#ffffb6"/>
<rect x="537.02" y="56.30" width="15.53" height="6.19" fill="#efefa6"/>
<rect x="552.25" y="56.30" width="30.77" height="6.19" fill="#f1f10e"/>
<rect x="582.72" y="56.30" width="23.15" height="6.19" fill="#efefa6"/>
<rect x="643.65" y="56.30" width="23.15" height="6.19" fill="#ffffb6"/>
<rect x="392.30" y="62.19" width="91.70" height="6.19" fill="#ffff00"/>
<rect x="483.70" y="62.19" width="53.62" height="6.19" fill="#ffffb6"/>
<rect x="537.02" y="62.19" width="15.53" height="6.19" fill="#efefa6"/>
<rect x="552.25" y="62.19" width="30.77" height="6.19" fill="#f1f10e"/>
<rect x="582.72" y="62.19" width="23.15" height="6.19" fill="#efefa6"/>
<rect x="643.65" y="62.19" width="23.15" height="6.19" fill="#ffffb6"/>
<rect x="392.30" y="68.08" width="7.92" height="6.19" fill="#ffffb6"/>
<rect x="399.92" y="68.08" width="91.70" height="6.19" fill="#ffff00"/>
<rect x="491.32" y="68.08" width="15.53" height="6.19" fill="#ffffb6"/>
<rect x="537.02" y="68.08" width="23.15" height="6.19" fill="#efefa6"/>
<rect x="559.87" y="68.08" width="23.15" height="6.19" fill="#f1f10e"/>
<rect x="582.72" y="68.08" width="30.77" height="6.19" fill="#efefa6"/>
<rect x="643.65" y="68.08" width="23.15" height="6.19" fill="#ffffb6"/>
<rect x="392.30" y="73.97" width="15.53" height="6.19" fill="#ffffb6"/>
<rect x="407.53" y="73.97" width="84.08" height="6.19" fill="#ffff00"/>
<rect x="491.32" y="73.97" width="15.53" height="6.19" fill="#ffffb6"/>
<rect x="537.02" y="73.97" width="15.53" height="6.19" fill="#efefa6"/>
<rect x="552.25" y="73.97" width="46.00" height="6.19" fill="#f1f10e"/>
<rect x="597.95" y="73.97" width="15.53" height="6.19" fill="#efefa6"/>
<rect x="643.65" y="73.97" width="23.15" height="6.19" fill="#ffffb6"/>
<rect x="392.30" y="79.86" width="15.53" height="6.19" fill="#efefa6"/>
<rect x="407.53" y="79.86" width="76.47" height="6.19" fill="#f1f10e"/>
<rect x="483.70" y="79.86" width="23.15" height="6.19" fill="#efefa6"/>
<rect x="537.02" y="79.86" width="15.53" height="6.19" fill="#efefa6"/>
<rect x="552.25" y="79.86" width="15.53" height="6.19" fill="#f1f10e"/>
<rect x="567.48" y="79.86" width="7.92" height="6.19" fill="#fb0000"/>
<rect x="575.10" y="79.86" width="15.53" height="6.19" fill="#f1f10e"/>
<rect x="590.33" y="79.86" width="23.15" height="6.19" fill="#efefa6"/>
<rect x="643.65" y="79.86" width="23.15" height="6.19" fill="#ffffb6"/>
<rect x="392.30" y="85.74" width="7.92" height="6.19" fill="#efefa6"/>
<rect x="399.92" y="85.74" width="84.08" height="6.19" fill="#f1f10e"/>
<rect x="483.70" y="85.74" width="23.15" height="6.19" fill="#efefa6"/>
<rect x="537.02" y="85.74" width="23.15" height="6.19" fill="#efefa6"/>
<rect x="559.87" y="85.74" width="7.92" height="6.19" fill="#f1f10e"/>
<rect x="567.48" y="85.74" width="15.53" height="6.19" fill="#fb0000"/>
<rect x="582.72" y="85.74" width="7.92" height="6.19" fill="#f1f10e"/>
<rect x="590.33" y="85.74" width="23.15" height="6.19" fill="#efefa6"/>
<rect x="643.65" y="85.74" width="23.15" height="6.19" fill="#ffffb6"/>
<rect x="392.30" y="91.63" width="7.92" height="6.19" fill="#efefa6"/>
<rect x="399.92" y="91.63" width="46.00" height="6.19" fill="#f1f10e"/>
<rect x="445.62" y="91.63" width="7.92" height="6.19" fill="#fb0000"/>
<rect x="453.23" y="91.63" width="38.38" height="6.19" fill="#f1f10e"/>
<rect x="491.32" y="91.63" width="23.15" height="6.19" fill="#efefa6"/>
<rect x="537.02" y="91.63" width="23.15" height="6.19" fill="#efefa6"/>
<rect x="559.87" y="91.63" width="38.38" height="6.19" fill="#f1f10e"/>
<rect x="597.95" y="91.63" width="15.53" height="6.19" fill="#efefa6"/>
<rect x="643.65" y="91.63" width="23.15" height="6.19" fill="#ffffb6"/>
<rect x="392.30" y="97.52" width="7.92" height="6.19" fill="#efefa6"/>
<rect x="399.92" y="97.52" width="38.38" height="6.19" fill="#f1f10e"/>
<rect x="438.00" y="97.52" width="30.77" height="6.19" fill="#fb0000"/>
<rect x="468.47" y="97.52" width="23.15" height="6.19" fill="#f1f10e"/>
<rect x="491.32" y="97.52" width="30.77" height="6.19" fill="#efefa6"/>
<rect x="544.63" y="97.52" width="23.15" height="6.19" fill="#efefa6"/>
<rect x="567.48" y="97.52" width="23.15" height="6.19" fill="#f1f10e"/>
<rect x="590.33" y="97.52" width="23.15" height="6.19" fill="#efefa6"/>
<rect x="643.65" y="97.52" width="23.15" height="6.19" fill="#ffffb6"/>
<rect x="392.30" y="103.41" width="7.92" height="6.19" fill="#efefa6"/>
<rect x="399.92" y="103.41" width="38.38" height="6.19" fill="#f1f10e"/>
<rect x="438.00" y="103.41" width="38.38" height="6.19" fill="#fb0000"/>
<rect x="476.08" y="103.41" width="23.15" height="6.19" fill="#f1f10e"/>
<rect x="498.93" y="103.41" width="23.15" height="6.19" fill="#efefa6"/>
<rect x="544.63" y="103.41" width="30.77" height="6.19" fill="#efefa6"/>
<rect x="575.10" y="103.41" width="23.15" height="6.19" fill="#f1f10e"/>
<rect x="597.95" y="103.41" width="15.53" height="6.19" fill="#efefa6"/>
<rect x="643.65" y="103.41" width="23.15" height="6.19" fill="#ffffb6"/>
<rect x="392.30" y="109.30" width="7.92" height="6.19" fill="#efefa6"/>
<rect x="399.92" y="109.30" width="30.77" height="6.19" fill="#f1f10e"/>
<rect x="430.38" y="109.30" width="53.62" height="6.19" fill="#fb0000"/>
<rect x="483.70" y="109.30" width="23.15" height="6.19" fill="#f1f10e"/>
<rect x="506.55" y="109.30" width="23.15" height="6.19" fill="#efefa6"/>
<rect x="544.63" y="109.30" width="23.15" height="6.19" fill="#efefa6"/>
<rect x="567.48" y="109.30" width="7.92" height="6.19" fill="#f1f10e"/>
<rect x="575.10" y="109.30" width="7.92" height="6.19" fill="#efefa6"/>
<rect x="582.72" y="109.30" width="15.53" height="6.19" fill="#f1f10e"/>
<rect x="597.95" y="109.30" width="15.53" height="6.19" fill="#efefa6"/>
<rect x="643.65" y="109.30" width="23.15" height="6.19" fill="#ffffb6"/>
<rect x="392.30" y="115.19" width="7.92" height="6.19" fill="#efefa6"/>
<rect x="399.92" y="115.19" width="38.38" height="6.19" fill="#f1f10e"/>
<rect x="438.00" y="115.19" width="53.62" height="6.19" fill="#fb0000"/>
<rect x="491.32" y="115.19" width="15.53" height="6.19" fill="#f1f10e"/>
<rect x="506.55" y="115.19" width="30.77" height="6.19" fill="#efefa6"/>
<rect x="544.63" y="115.19" width="68.85" height="6.19" fill="#efefa6"/>
<rect x="643.65" y="115.19" width="23.15" height="6.19" fill="#ffffb6"/>
<rect x="392.30" y="121.08" width="15.53" height="6.19" fill="#efefa6"/>
<rect x="407.53" y="121.08" width="30.77" height="6.19" fill="#f1f10e"/>
<rect x="438.00" y="121.08" width="61.23" height="6.19" fill="#fb0000"/>
<rect x="498.93" y="121.08" width="15.53" height="6.19" fill="#f1f10e"/>
<rect x="514.17" y="121.08" width="23.15" height="6.19" fill="#efefa6"/>
<rect x="544.63" y="121.08" width="68.85" height="6.19" fill="#efefa6"/>
<rect x="643.65" y="121.08" width="23.15" height="6.19" fill="#ffffb6"/>
<rect x="392.30" y="126.97" width="15.53" height="6.19" fill="#efefa6"/>
<rect x="407.53" y="126.97" width="38.38" height="6.19" fill="#f1f10e"/>
<rect x="445.62" y="126.97" width="53.62" height="6.19" fill="#fb0000"/>
<rect x="498.93" y="126.97" width="23.15" height="6.19" fill="#f1f10e"/>
<rect x="521.78" y="126.97" width="23.15" height="6.19" fill="#efefa6"/>
<rect x="643.65" y="126.97" width="23.15" height="6.19" fill="#ffffb6"/>
<rect x="392.30" y="132.86" width="23.15" height="6.19" fill="#efefa6"/>
<rect x="415.15" y="132.86" width="38.38" height="6.19" fill="#f1f10e"/>
<rect x="453.23" y="132.86" width="53.62" height="6.19" fill="#fb0000"/>
<rect x="506.55" y="132.86" width="15.53" height="6.19" fill="#f1f10e"/>
<rect x="521.78" y="132.86" width="23.15" height="6.19" fill="#efefa6"/>
<rect x="643.65" y="132.86" width="23.15" height="6.19" fill="#ffffb6"/>
<rect x="392.30" y="138.74" width="7.92" height="6.19" fill="#efefa6"/>
<rect x="399.92" y="138.74" width="61.23" height="6.19" fill="#f1f10e"/>
<rect x="460.85" y="138.74" width="46.00" height="6.19" fill="#fb0000"/>
<rect x="506.55" y="138.74" width="23.15" height="6.19" fill="#f1f10e"/>
<rect x="529.40" y="138.74" width="23.15" height="6.19" fill="#efefa6"/>
<rect x="643.65" y="138.74" width="23.15" height="6.19" fill="#ffffb6"/>
<rect x="392.30" y="144.63" width="15.53" height="6.19" fill="#f1f10e"/>
<rect x="407.53" y="144.63" width="7.92" height="6.19" fill="#efefa6"/>
<rect x="415.15" y="144.63" width="61.23" height="6.19" fill="#f1f10e"/>
<rect x="476.08" y="144.63" width="30.77" height="6.19" fill="#fb0000"/>
<rect x="506.55" y="144.63" width="23.15" height="6.19" fill="#f1f10e"/>
<rect x="529.40" y="144.63" width="23.15" height="6.19" fill="#efefa6"/>
<rect x="643.65" y="144.63" width="23.15" height="6.19" fill="#ffffb6"/>
<rect x="392.30" y="150.52" width="23.15" height="6.19" fill="#efefa6"/>
<rect x="415.15" y="150.52" width="122.17" height="6.19" fill="#f1f10e"/>
<rect x="537.02" y="150.52" width="15.53" height="6.19" fill="#efefa6"/>
<rect x="643.65" y="150.52" width="23.15" height="6.19" fill="#ffffb6"/>
<rect x="392.30" y="156.41" width="38.38" height="6.19" fill="#efefa6"/>
<rect x="430.38" y="156.41" width="99.32" height="6.19" fill="#f1f10e"/>
<rect x="529.40" y="156.41" width="23.15" height="6.19" fill="#efefa6"/>
<rect x="643.65" y="156.41" width="23.15" height="6.19" fill="#ffffb6"/>
<rect x="399.92" y="162.30" width="30.77" height="6.19" fill="#efefa6"/>
<rect x="430.38" y="162.30" width="76.47" height="6.19" fill="#f1f10e"/>
<rect x="506.55" y="162.30" width="46.00" height="6.19" fill="#efefa6"/>
<rect x="415.15" y="168.19" width="61.23" height="6.19" fill="#efefa6"/>
<rect x="476.08" y="168.19" width="7.92" height="6.19" fill="#f1f10e"/>
<rect x="483.70" y="168.19" width="61.23" height="6.19" fill="#efefa6"/>
<rect x="415.15" y="174.08" width="30.77" height="6.19" fill="#ffffb6"/>
<rect x="445.62" y="174.08" width="15.53" height="6.19" fill="#ffff00"/>
<rect x="460.85" y="174.08" width="61.23" height="6.19" fill="#ffffb6"/>
<rect x="392.30" y="179.97" width="38.38" height="6.19" fill="#ffffb6"/>
<rect x="430.38" y="179.97" width="15.53" height="6.19" fill="#ffff00"/>
<rect x="445.62" y="179.97" width="53.62" height="6.19" fill="#ffffb6"/>
<rect x="552.25" y="179.97" width="38.38" height="6.19" fill="#efefa6"/>
<rect x="392.30" y="185.86" width="46.00" height="6.19" fill="#ffffb6"/>
<rect x="438.00" y="185.86" width="30.77" height="6.19" fill="#ffff00"/>
<rect x="468.47" y="185.86" width="30.77" height="6.19" fill="#ffffb6"/>
<rect x="552.25" y="185.86" width="38.38" height="6.19" fill="#efefa6"/>
<rect x="392.30" y="191.74" width="7.92" height="6.19" fill="#ffffb6"/>
<rect x="399.92" y="191.74" width="23.15" height="6.19" fill="#ffff00"/>
<rect x="422.77" y="191.74" width="7.92" height="6.19" fill="#ffffb6"/>
<rect x="430.38" y="191.74" width="38.38" height="6.19" fill="#ffff00"/>
<rect x="468.47" y="191.74" width="38.38" height="6.19" fill="#ffffb6"/>
<rect x="552.25" y="191.74" width="15.53" height="6.19" fill="#efefa6"/>
<rect x="567.48" y="191.74" width="7.92" height="6.19" fill="#f1f10e"/>
<rect x="575.10" y="191.74" width="23.15" height="6.19" fill="#efefa6"/>
<rect x="392.30" y="197.63" width="7.92" height="6.19" fill="#ffffb6"/>
<rect x="399.92" y="197.63" width="76.47" height="6.19" fill="#ffff00"/>
<rect x="476.08" y="197.63" width="30.77" height="6.19" fill="#ffffb6"/>
<rect x="552.25" y="197.63" width="15.53" height="6.19" fill="#efefa6"/>
<rect x="567.48" y="197.63" width="7.92" height="6.19" fill="#f1f10e"/>
<rect x="575.10" y="197.63" width="23.15" height="6.19" fill="#efefa6"/>
<rect x="643.65" y="197.63" width="23.15" height="6.19" fill="#ffffb6"/>
<rect x="392.30" y="203.52" width="7.92" height="6.19" fill="#ffffb6"/>
<rect x="399.92" y="203.52" width="91.70" height="6.19" fill="#ffff00"/>
<rect x="491.32" y="203.52" width="15.53" height="6.19" fill="#ffffb6"/>
<rect x="552.25" y="203.52" width="15.53" height="6.19" fill="#efefa6"/>
<rect x="567.48" y="203.52" width="15.53" height="6.19" fill="#f1f10e"/>
<rect x="582.72" y="203.52" width="15.53" height="6.19" fill="#efefa6"/>
<rect x="643.65" y="203.52" width="23.15" height="6.19" fill="#ffffb6"/>
<rect x="392.30" y="209.41" width="99.32" height="6.19" fill="#ffff00"/>
<rect x="491.32" y="209.41" width="15.53" height="6.19" fill="#ffffb6"/>
<rect x="552.25" y="209.41" width="46.00" height="6.19" fill="#efefa6"/>
<rect x="643.65" y="209.41" width="15.53" height="6.19" fill="#ffffb6"/>
<rect x="658.88" y="209.41" width="7.92" height="6.19" fill="#ffff00"/>
</g>
<path d="M514.17 3.30L514.17 9.19M514.17 9.19L521.78 9.19M552.25 3.30L552.25 9.19M552.25 9.19L559.87 9.19M559.87 9.19L567.48 9.19M567.48 9.19L575.10 9.19M575.10 9.19L582.72 9.19M590.33 3.30L590.33 9.19M582.72 9.19L590.33 9.19M628.42 3.30L628.42 9.19M521.78 9.19L521.78 15.08M521.78 15.08L529.40 15.08M529.40 15.08L537.02 15.08M628.42 9.19L628.42 15.08M537.02 15.08L537.02 20.97M628.42 15.08L628.42 20.97M537.02 20.97L537.02 26.86M628.42 20.97L628.42 26.86M537.02 26.86L537.02 32.74M628.42 26.86L628.42 32.74M628.42 32.74L636.03 32.74M537.02 32.74L537.02 38.63M559.87 38.63L567.48 38.63M567.48 38.63L575.10 38.63M575.10 38.63L582.72 38.63M582.72 38.63L590.33 38.63M590.33 38.63L597.95 38.63M597.95 38.63L605.57 38.63M636.03 32.74L636.03 38.63M636.03 38.63L643.65 38.63M537.02 38.63L537.02 44.52M537.02 44.52L544.63 44.52M544.63 44.52L552.25 44.52M559.87 38.63L559.87 44.52M552.25 44.52L559.87 44.52M605.57 38.63L605.57 44.52M643.65 38.63L643.65 44.52M605.57 44.52L605.57 50.41M643.65 44.52L643.65 50.41M605.57 50.41L605.57 56.30M643.65 50.41L643.65 56.30M605.57 56.30L605.57 62.19M643.65 56.30L643.65 62.19M506.55 68.08L514.17 68.08M514.17 68.08L521.78 68.08M521.78 68.08L529.40 68.08M529.40 68.08L537.02 68.08M605.57 62.19L605.57 68.08M605.57 68.08L613.18 68.08M643.65 62.19L643.65 68.08M506.55 68.08L506.55 73.97M537.02 68.08L537.02 73.97M613.18 68.08L613.18 73.97M643.65 68.08L643.65 73.97M506.55 73.97L506.55 79.86M537.02 73.97L537.02 79.86M613.18 73.97L613.18 79.86M643.65 73.97L643.65 79.86M506.55 79.86L506.55 85.74M537.02 79.86L537.02 85.74M613.18 79.86L613.18 85.74M643.65 79.86L643.65 85.74M506.55 85.74L506.55 91.63M506.55 91.63L514.17 91.63M537.02 85.74L537.02 91.63M613.18 85.74L613.18 91.63M643.65 85.74L643.65 91.63M514.17 91.63L514.17 97.52M514.17 97.52L521.78 97.52M537.02 91.63L537.02 97.52M537.02 97.52L544.63 97.52M613.18 91.63L613.18 97.52M643.65 91.63L643.65 97.52M521.78 97.52L521.78 103.41M544.63 97.52L544.63 103.41M613.18 97.52L613.18 103.41M643.65 97.52L643.65 103.41M521.78 103.41L521.78 109.30M521.78 109.30L529.40 109.30M544.63 103.41L544.63 109.30M613.18 103.41L613.18 109.30M643.65 103.41L643.65 109.30M529.40 109.30L529.40 115.19M529.40 115.19L537.02 115.19M544.63 109.30L544.63 115.19M613.18 109.30L613.18 115.19M643.65 109.30L643.65 115.19M537.02 115.19L537.02 121.08M544.63 115.19L544.63 121.08M613.18 115.19L613.18 121.08M643.65 115.19L643.65 121.08M537.02 121.08L537.02 126.97M544.63 121.08L544.63 126.97M537.02 126.97L544.63 126.97M544.63 126.97L552.25 126.97M552.25 126.97L559.87 126.97M559.87 126.97L567.48 126.97M567.48 126.97L575.10 126.97M575.10 126.97L582.72 126.97M582.72 126.97L590.33 126.97M590.33 126.97L597.95 126.97M597.95 126.97L605.57 126.97M613.18 121.08L613.18 126.97M605.57 126.97L613.18 126.97M643.65 121.08L643.65 126.97M544.63 126.97L544.63 132.86M643.65 126.97L643.65 132.86M544.63 132.86L544.63 138.74M544.63 138.74L552.25 138.74M643.65 132.86L643.65 138.74M552.25 138.74L552.25 144.63M643.65 138.74L643.65 144.63M552.25 144.63L552.25 150.52M643.65 144.63L643.65 150.52M552.25 150.52L552.25 156.41M643.65 150.52L643.65 156.41M392.30 162.30L399.92 162.30M552.25 156.41L552.25 162.30M643.65 156.41L643.65 162.30M643.65 162.30L651.27 162.30M651.27 162.30L658.88 162.30M658.88 162.30L666.50 162.30M399.92 162.30L399.92 168.19M399.92 168.19L407.53 168.19M407.53 168.19L415.15 168.19M552.25 162.30L552.25 168.19M544.63 168.19L552.25 168.19M415.15 168.19L415.15 174.08M521.78 174.08L529.40 174.08M529.40 174.08L537.02 174.08M544.63 168.19L544.63 174.08M537.02 174.08L544.63 174.08M392.30 179.97L399.92 179.97M399.92 179.97L407.53 179.97M415.15 174.08L415.15 179.97M407.53 179.97L415.15 179.97M498.93 179.97L506.55 179.97M506.55 179.97L514.17 179.97M521.78 174.08L521.78 179.97M514.17 179.97L521.78 179.97M552.25 179.97L559.87 179.97M559.87 179.97L567.48 179.97M567.48 179.97L575.10 179.97M575.10 179.97L582.72 179.97M582.72 179.97L590.33 179.97M498.93 179.97L498.93 185.86M552.25 179.97L552.25 185.86M590.33 179.97L590.33 185.86M498.93 185.86L498.93 191.74M498.93 191.74L506.55 191.74M552.25 185.86L552.25 191.74M590.33 185.86L590.33 191.74M590.33 191.74L597.95 191.74M506.55 191.74L506.55 197.63M552.25 191.74L552.25 197.63M597.95 191.74L597.95 197.63M643.65 197.63L651.27 197.63M651.27 197.63L658.88 197.63M658.88 197.63L666.50 197.63M506.55 197.63L506.55 203.52M552.25 197.63L552.25 203.52M597.95 197.63L597.95 203.52M643.65 197.63L643.65 203.52M506.55 203.52L506.55 209.41M552.25 203.52L552.25 209.41M597.95 203.52L597.95 209.41M643.65 203.52L643.65 209.41M506.55 209.41L506.55 215.30M552.25 209.41L552.25 215.30M597.95 209.41L597.95 215.30M643.65 209.41L643.65 215.30" stroke="#000" stroke-opacity="0.6" stroke-width="0.6" fill="none"/>
<path d="M498.93 3.30L498.93 9.19M498.93 9.19L506.55 9.19M658.88 3.30L658.88 9.19M651.27 9.19L658.88 9.19M506.55 9.19L506.55 15.08M651.27 9.19L651.27 15.08M643.65 15.08L651.27 15.08M506.55 15.08L506.55 20.97M506.55 20.97L514.17 20.97M643.65 15.08L643.65 20.97M643.65 20.97L651.27 20.97M514.17 20.97L514.17 26.86M651.27 20.97L651.27 26.86M651.27 26.86L658.88 26.86M514.17 26.86L514.17 32.74M658.88 26.86L658.88 32.74M514.17 32.74L514.17 38.63M658.88 32.74L658.88 38.63M514.17 38.63L514.17 44.52M514.17 44.52L521.78 44.52M658.88 38.63L658.88 44.52M521.78 44.52L521.78 50.41M575.10 50.41L582.72 50.41M582.72 50.41L590.33 50.41M658.88 44.52L658.88 50.41M498.93 56.30L506.55 56.30M506.55 56.30L514.17 56.30M521.78 50.41L521.78 56.30M514.17 56.30L521.78 56.30M552.25 56.30L559.87 56.30M559.87 56.30L567.48 56.30M575.10 50.41L575.10 56.30M567.48 56.30L575.10 56.30M590.33 50.41L590.33 56.30M582.72 56.30L590.33 56.30M658.88 50.41L658.88 56.30M658.88 56.30L666.50 56.30M483.70 62.19L491.32 62.19M498.93 56.30L498.93 62.19M491.32 62.19L498.93 62.19M552.25 56.30L552.25 62.19M582.72 56.30L582.72 62.19M392.30 68.08L399.92 68.08M483.70 62.19L483.70 68.08M483.70 68.08L491.32 68.08M552.25 62.19L552.25 68.08M552.25 68.08L559.87 68.08M582.72 62.19L582.72 68.08M399.92 68.08L399.92 73.97M399.92 73.97L407.53 73.97M491.32 68.08L491.32 73.97M559.87 68.08L559.87 73.97M552.25 73.97L559.87 73.97M582.72 68.08L582.72 73.97M582.72 73.97L590.33 73.97M590.33 73.97L597.95 73.97M407.53 73.97L407.53 79.86M491.32 73.97L491.32 79.86M483.70 79.86L491.32 79.86M552.25 73.97L552.25 79.86M597.95 73.97L597.95 79.86M590.33 79.86L597.95 79.86M407.53 79.86L407.53 85.74M399.92 85.74L407.53 85.74M483.70 79.86L483.70 85.74M552.25 79.86L552.25 85.74M552.25 85.74L559.87 85.74M590.33 79.86L590.33 85.74M399.92 85.74L399.92 91.63M483.70 85.74L483.70 91.63M483.70 91.63L491.32 91.63M559.87 85.74L559.87 91.63M590.33 85.74L590.33 91.63M590.33 91.63L597.95 91.63M399.92 91.63L399.92 97.52M491.32 91.63L491.32 97.52M559.87 91.63L559.87 97.52M559.87 97.52L567.48 97.52M597.95 91.63L597.95 97.52M590.33 97.52L597.95 97.52M399.92 97.52L399.92 103.41M491.32 97.52L491.32 103.41M491.32 103.41L498.93 103.41M567.48 97.52L567.48 103.41M567.48 103.41L575.10 103.41M590.33 97.52L590.33 103.41M590.33 103.41L597.95 103.41M399.92 103.41L399.92 109.30M498.93 103.41L498.93 109.30M498.93 109.30L506.55 109.30M575.10 103.41L575.10 109.30M567.48 109.30L575.10 109.30M575.10 109.30L582.72 109.30M597.95 103.41L597.95 109.30M399.92 109.30L399.92 115.19M506.55 109.30L506.55 115.19M567.48 109.30L567.48 115.19M575.10 109.30L575.10 115.19M567.48 115.19L575.10 115.19M582.72 109.30L582.72 115.19M582.72 115.19L590.33 115.19M597.95 109.30L597.95 115.19M590.33 115.19L597.95 115.19M399.92 115.19L399.92 121.08M399.92 121.08L407.53 121.08M506.55 115.19L506.55 121.08M506.55 121.08L514.17 121.08M407.53 121.08L407.53 126.97M514.17 121.08L514.17 126.97M514.17 126.97L521.78 126.97M407.53 126.97L407.53 132.86M407.53 132.86L415.15 132.86M521.78 126.97L521.78 132.86M399.92 138.74L407.53 138.74M415.15 132.86L415.15 138.74M407.53 138.74L415.15 138.74M521.78 132.86L521.78 138.74M521.78 138.74L529.40 138.74M399.92 138.74L399.92 144.63M392.30 144.63L399.92 144.63M407.53 144.63L415.15 144.63M529.40 138.74L529.40 144.63M392.30 150.52L399.92 150.52M407.53 144.63L407.53 150.52M399.92 150.52L407.53 150.52M415.15 144.63L415.15 150.52M529.40 144.63L529.40 150.52M529.40 150.52L537.02 150.52M415.15 150.52L415.15 156.41M415.15 156.41L422.77 156.41M422.77 156.41L430.38 156.41M537.02 150.52L537.02 156.41M529.40 156.41L537.02 156.41M430.38 156.41L430.38 162.30M506.55 162.30L514.17 162.30M514.17 162.30L521.78 162.30M529.40 156.41L529.40 162.30M521.78 162.30L529.40 162.30M430.38 162.30L430.38 168.19M430.38 168.19L438.00 168.19M438.00 168.19L445.62 168.19M445.62 168.19L453.23 168.19M453.23 168.19L460.85 168.19M460.85 168.19L468.47 168.19M468.47 168.19L476.08 168.19M483.70 168.19L491.32 168.19M491.32 168.19L498.93 168.19M506.55 162.30L506.55 168.19M498.93 168.19L506.55 168.19M445.62 174.08L453.23 174.08M453.23 174.08L460.85 174.08M476.08 168.19L476.08 174.08M483.70 168.19L483.70 174.08M476.08 174.08L483.70 174.08M430.38 179.97L438.00 179.97M445.62 174.08L445.62 179.97M438.00 179.97L445.62 179.97M445.62 179.97L453.23 179.97M460.85 174.08L460.85 179.97M453.23 179.97L460.85 179.97M430.38 179.97L430.38 185.86M430.38 185.86L438.00 185.86M445.62 179.97L445.62 185.86M445.62 185.86L453.23 185.86M453.23 185.86L460.85 185.86M460.85 185.86L468.47 185.86M399.92 191.74L407.53 191.74M407.53 191.74L415.15 191.74M415.15 191.74L422.77 191.74M438.00 185.86L438.00 191.74M430.38 191.74L438.00 191.74M468.47 185.86L468.47 191.74M567.48 191.74L575.10 191.74M399.92 191.74L399.92 197.63M422.77 191.74L422.77 197.63M430.38 191.74L430.38 197.63M422.77 197.63L430.38 197.63M468.47 191.74L468.47 197.63M468.47 197.63L476.08 197.63M567.48 191.74L567.48 197.63M575.10 191.74L575.10 197.63M399.92 197.63L399.92 203.52M476.08 197.63L476.08 203.52M476.08 203.52L483.70 203.52M483.70 203.52L491.32 203.52M567.48 197.63L567.48 203.52M575.10 197.63L575.10 203.52M575.10 203.52L582.72 203.52M399.92 203.52L399.92 209.41M392.30 209.41L399.92 209.41M491.32 203.52L491.32 209.41M567.48 203.52L567.48 209.41M567.48 209.41L575.10 209.41M582.72 203.52L582.72 209.41M575.10 209.41L582.72 209.41M658.88 209.41L666.50 209.41M491.32 209.41L491.32 215.30M658.88 209.41L658.88 215.30" stroke="#000" stroke-opacity="0.38" stroke-width="0.55" fill="none"/>
<rect x="392.30" y="3.30" width="274.20" height="212.00" fill="none" stroke="#222" stroke-width="0.9"/>
<path d="M392.30 109.30H666.50M529.40 3.30V215.30" stroke="#222" stroke-width="0.6" fill="none"/>
<path d="M389.30 3.30h3.00M391.00 9.19h1.30M391.00 15.08h1.30M391.00 20.97h1.30M391.00 26.86h1.30M391.00 32.74h1.30M391.00 38.63h1.30M391.00 44.52h1.30M391.00 50.41h1.30M389.30 56.30h3.00M391.00 62.19h1.30M391.00 68.08h1.30M391.00 73.97h1.30M391.00 79.86h1.30M391.00 85.74h1.30M391.00 91.63h1.30M391.00 97.52h1.30M391.00 103.41h1.30M389.30 109.30h3.00M391.00 115.19h1.30M391.00 121.08h1.30M391.00 126.97h1.30M391.00 132.86h1.30M391.00 138.74h1.30M391.00 144.63h1.30M391.00 150.52h1.30M391.00 156.41h1.30M389.30 162.30h3.00M391.00 168.19h1.30M391.00 174.08h1.30M391.00 179.97h1.30M391.00 185.86h1.30M391.00 191.74h1.30M391.00 197.63h1.30M391.00 203.52h1.30M391.00 209.41h1.30M389.30 215.30h3.00M388.30 215.30h4M392.30 215.30v3M388.30 188.80h4M426.57 215.30v3M388.30 162.30h4M460.85 215.30v3M388.30 135.80h4M495.12 215.30v3M388.30 109.30h4M529.40 215.30v3M388.30 82.80h4M563.67 215.30v3M388.30 56.30h4M597.95 215.30v3M388.30 29.80h4M632.23 215.30v3M388.30 3.30h4M666.50 215.30v3" stroke="#222" stroke-width="0.6" fill="none"/>
<g font-family="'Liberation Serif',serif" font-size="10px" fill="#1a1a1a" stroke="#1a1a1a" stroke-width="0.15">
<text transform="translate(387.8,6.0) scale(1,0.773)" text-anchor="end">180</text>
<text transform="translate(387.8,32.5) scale(1,0.773)" text-anchor="end">135</text>
<text transform="translate(387.8,59.0) scale(1,0.773)" text-anchor="end">90</text>
<text transform="translate(387.8,85.5) scale(1,0.773)" text-anchor="end">45</text>
<text transform="translate(387.8,112.0) scale(1,0.773)" text-anchor="end">0</text>
<text transform="translate(387.8,138.5) scale(1,0.773)" text-anchor="end">-45</text>
<text transform="translate(387.8,165.0) scale(1,0.773)" text-anchor="end">-90</text>
<text transform="translate(387.8,191.5) scale(1,0.773)" text-anchor="end">-135</text>
<text transform="translate(392.1,223.8) scale(1,0.773)" text-anchor="middle">-180</text>
<text transform="translate(426.4,223.8) scale(1,0.773)" text-anchor="middle">-135</text>
<text transform="translate(460.7,223.8) scale(1,0.773)" text-anchor="middle">-90</text>
<text transform="translate(494.9,223.8) scale(1,0.773)" text-anchor="middle">-45</text>
<text transform="translate(529.4,223.8) scale(1,0.773)" text-anchor="middle">0</text>
<text transform="translate(563.7,223.8) scale(1,0.773)" text-anchor="middle">45</text>
<text transform="translate(598.0,223.8) scale(1,0.773)" text-anchor="middle">90</text>
<text transform="translate(632.2,223.8) scale(1,0.773)" text-anchor="middle">135</text>
<text transform="translate(666.5,223.8) scale(1,0.773)" text-anchor="middle">180</text>
<text transform="translate(529.7,234.3) scale(1,0.773)" text-anchor="middle" textLength="53" lengthAdjust="spacingAndGlyphs">Phi (degrees)</text>
<text transform="translate(362.6,108.5) rotate(-90) scale(0.773,1)" text-anchor="middle" textLength="54.8" lengthAdjust="spacingAndGlyphs">Psi (degrees)</text>
</g>
<g font-family="'Liberation Serif',serif" font-weight="bold">
<text transform="translate(404.3,12.0) scale(1,0.773)" font-size="10.5px" fill="#8c1200">B</text>
<text transform="translate(397.6,35.6) scale(1,0.773)" font-size="10.0px" fill="#6e5e00">b</text>
<text transform="translate(405.3,95.0) scale(1,0.773)" font-size="9.0px" fill="#7a6a00">a</text>
<text transform="translate(442.5,106.5) scale(1,0.773)" font-size="10.0px" fill="#8c1200">A</text>
<text transform="translate(515.5,34.8) scale(1,0.773)" font-size="7.0px" fill="#8a8a50">~b</text>
<text transform="translate(515.5,120.8) scale(1,0.773)" font-size="7.0px" fill="#8a8a50">~a</text>
<text transform="translate(393.5,187.4) scale(1,0.773)" font-size="6.0px" fill="#8a7a30">~b</text>
<text transform="translate(405.5,200.0) scale(1,0.773)" font-size="7.0px" fill="#7a6a00">b</text>
<text transform="translate(554.5,64.3) scale(1,0.773)" font-size="8.0px" fill="#7a6a00">l</text>
<text transform="translate(630.5,11.3) scale(1,0.773)" font-size="7.0px" fill="#8a7a30">~b</text>
<text transform="translate(656.5,17.3) scale(1,0.773)" font-size="8.0px" fill="#7a6a00">b</text>
<text transform="translate(554.5,188.3) scale(1,0.773)" font-size="7.0px" fill="#8a7a30">~p</text>
<text transform="translate(569.5,201.0) scale(1,0.773)" font-size="8.5px" fill="#7a6a00">p</text>
<text transform="translate(645.0,205.3) scale(1,0.773)" font-size="7.0px" fill="#8a7a30">~b</text>
</g>
<path d="M412.3 10.1h3v2.5h-3zM463.1 4.8h3v2.5h-3zM472.0 5.2h3v2.5h-3zM477.6 4.3h3v2.5h-3zM432.1 16.9h3v2.5h-3zM433.6 19.8h3v2.5h-3zM434.9 24.2h3v2.5h-3zM439.7 22.9h3v2.5h-3zM448.6 22.9h3v2.5h-3zM453.4 17.2h3v2.5h-3zM464.7 14.3h3v2.5h-3zM452.6 25.1h3v2.5h-3zM456.7 24.2h3v2.5h-3zM460.7 27.8h3v2.5h-3zM408.3 29.4h3v2.5h-3zM430.4 30.2h3v2.5h-3zM434.9 31.8h3v2.5h-3zM451.8 31.8h3v2.5h-3zM455.9 32.6h3v2.5h-3zM438.1 37.5h3v2.5h-3zM443.8 36.1h3v2.5h-3zM445.4 38.8h3v2.5h-3zM448.6 35.0h3v2.5h-3zM451.8 35.5h3v2.5h-3zM415.2 39.0h3v2.5h-3zM439.7 45.5h3v2.5h-3zM440.0 47.1h3v2.5h-3zM447.8 45.2h3v2.5h-3zM456.7 43.1h3v2.5h-3zM459.1 44.8h3v2.5h-3zM461.5 45.5h3v2.5h-3zM474.4 42.2h3v2.5h-3zM455.0 53.5h3v2.5h-3zM461.5 48.8h3v2.5h-3zM469.6 54.4h3v2.5h-3zM460.7 56.0h3v2.5h-3zM465.5 35.9h3v2.5h-3zM467.1 32.6h3v2.5h-3zM466.3 26.9h3v2.5h-3zM468.8 21.4h3v2.5h-3zM489.7 30.2h3v2.5h-3zM487.3 35.0h3v2.5h-3zM480.9 37.5h3v2.5h-3zM483.3 14.1h3v2.5h-3zM487.3 23.8h3v2.5h-3zM426.8 60.0h3v2.5h-3zM427.6 61.6h3v2.5h-3zM434.9 63.0h3v2.5h-3zM455.9 62.5h3v2.5h-3zM455.9 64.0h3v2.5h-3zM465.5 59.2h3v2.5h-3zM467.1 60.9h3v2.5h-3zM470.4 59.2h3v2.5h-3zM471.2 63.2h3v2.5h-3zM465.5 65.7h3v2.5h-3zM468.0 67.2h3v2.5h-3zM468.8 69.0h3v2.5h-3zM425.2 71.7h3v2.5h-3zM414.7 80.7h3v2.5h-3zM449.7 79.0h3v2.5h-3zM453.9 86.7h3v2.5h-3zM434.1 90.3h3v2.5h-3zM446.2 89.8h3v2.5h-3zM456.2 91.5h3v2.5h-3zM461.5 92.7h3v2.5h-3zM451.8 96.3h3v2.5h-3zM453.4 98.0h3v2.5h-3zM447.0 103.5h3v2.5h-3zM462.3 106.0h3v2.5h-3zM453.4 99.5h3v2.5h-3zM455.9 108.8h3v2.5h-3zM461.5 107.7h3v2.5h-3zM463.9 106.8h3v2.5h-3zM468.8 109.8h3v2.5h-3zM447.8 111.7h3v2.5h-3zM447.5 115.7h3v2.5h-3zM478.4 111.7h3v2.5h-3zM484.1 114.0h3v2.5h-3zM465.5 115.7h3v2.5h-3zM447.0 125.3h3v2.5h-3zM447.8 132.7h3v2.5h-3zM443.8 137.9h3v2.5h-3zM458.3 128.6h3v2.5h-3zM459.9 130.2h3v2.5h-3zM457.5 131.8h3v2.5h-3zM461.5 136.7h3v2.5h-3zM463.9 126.2h3v2.5h-3zM462.3 127.8h3v2.5h-3zM470.4 138.2h3v2.5h-3zM480.0 138.2h3v2.5h-3zM486.5 137.4h3v2.5h-3zM491.3 123.0h3v2.5h-3zM493.0 131.1h3v2.5h-3zM495.4 133.4h3v2.5h-3zM487.3 117.2h3v2.5h-3zM495.3 130.2h3v2.5h-3zM501.7 133.4h3v2.5h-3zM487.2 137.4h3v2.5h-3zM460.6 136.7h3v2.5h-3zM492.9 124.5h3v2.5h-3zM492.0 122.2h3v2.5h-3zM484.8 114.0h3v2.5h-3zM487.2 116.5h3v2.5h-3zM463.8 106.0h3v2.5h-3zM460.6 107.7h3v2.5h-3zM455.0 108.8h3v2.5h-3zM468.7 109.2h3v2.5h-3zM451.7 99.5h3v2.5h-3zM574.6 59.8h3v2.5h-3zM574.1 64.8h3v2.5h-3zM564.5 65.7h3v2.5h-3zM566.1 67.2h3v2.5h-3zM570.1 66.5h3v2.5h-3zM564.5 72.7h3v2.5h-3zM569.3 72.2h3v2.5h-3zM565.3 79.3h3v2.5h-3zM566.9 81.8h3v2.5h-3zM570.1 81.0h3v2.5h-3zM571.7 80.2h3v2.5h-3zM566.9 87.2h3v2.5h-3zM575.0 86.7h3v2.5h-3zM575.8 94.0h3v2.5h-3zM574.1 96.3h3v2.5h-3zM575.8 95.5h3v2.5h-3zM574.1 100.7h3v2.5h-3zM579.8 106.0h3v2.5h-3zM595.9 113.2h3v2.5h-3zM573.3 207.9h3v2.5h-3zM465.2 209.2h3v2.5h-3zM475.7 128.3h3v2.5h-3zM475.8 124.5h3v2.5h-3zM472.2 124.1h3v2.5h-3zM482.8 129.6h3v2.5h-3zM482.4 128.7h3v2.5h-3zM479.1 127.6h3v2.5h-3zM468.3 128.2h3v2.5h-3zM479.6 129.2h3v2.5h-3zM468.2 116.1h3v2.5h-3zM472.4 123.0h3v2.5h-3zM478.6 126.4h3v2.5h-3zM479.7 123.9h3v2.5h-3zM478.6 128.5h3v2.5h-3zM473.6 133.4h3v2.5h-3zM479.9 132.5h3v2.5h-3zM473.8 122.1h3v2.5h-3zM475.2 125.3h3v2.5h-3zM480.3 128.2h3v2.5h-3zM474.7 121.3h3v2.5h-3zM474.3 131.3h3v2.5h-3zM472.8 126.4h3v2.5h-3zM479.2 119.8h3v2.5h-3zM477.3 132.4h3v2.5h-3zM466.5 122.3h3v2.5h-3zM476.4 122.3h3v2.5h-3zM479.6 126.6h3v2.5h-3zM469.4 128.3h3v2.5h-3zM480.5 131.4h3v2.5h-3zM484.5 129.7h3v2.5h-3zM477.6 120.4h3v2.5h-3zM480.2 124.1h3v2.5h-3zM474.6 119.8h3v2.5h-3zM472.0 122.6h3v2.5h-3zM483.7 118.4h3v2.5h-3zM469.4 125.6h3v2.5h-3zM484.5 130.7h3v2.5h-3zM467.1 112.3h3v2.5h-3zM478.9 123.3h3v2.5h-3zM471.2 129.4h3v2.5h-3zM482.7 128.3h3v2.5h-3zM478.3 128.6h3v2.5h-3zM485.3 131.0h3v2.5h-3zM479.7 129.4h3v2.5h-3zM468.8 130.3h3v2.5h-3zM482.0 129.9h3v2.5h-3zM466.7 120.9h3v2.5h-3zM481.4 118.8h3v2.5h-3zM476.0 130.8h3v2.5h-3zM470.2 132.2h3v2.5h-3zM479.9 126.2h3v2.5h-3zM478.7 129.7h3v2.5h-3zM477.6 131.7h3v2.5h-3zM473.6 123.5h3v2.5h-3zM482.4 127.6h3v2.5h-3zM472.4 129.6h3v2.5h-3zM484.6 125.9h3v2.5h-3zM469.8 124.0h3v2.5h-3zM476.2 124.7h3v2.5h-3zM484.3 123.2h3v2.5h-3zM483.6 121.9h3v2.5h-3zM472.9 128.2h3v2.5h-3zM482.9 131.6h3v2.5h-3zM478.8 127.3h3v2.5h-3zM477.8 129.1h3v2.5h-3zM476.1 127.3h3v2.5h-3zM480.0 126.9h3v2.5h-3zM481.0 129.8h3v2.5h-3zM487.5 130.2h3v2.5h-3zM474.8 124.0h3v2.5h-3zM476.9 130.5h3v2.5h-3zM475.2 127.6h3v2.5h-3zM486.6 116.5h3v2.5h-3zM471.2 126.0h3v2.5h-3zM479.1 127.8h3v2.5h-3zM474.8 128.8h3v2.5h-3zM478.5 124.2h3v2.5h-3zM489.6 130.8h3v2.5h-3zM474.1 125.1h3v2.5h-3zM475.8 125.7h3v2.5h-3zM462.8 120.7h3v2.5h-3zM482.2 122.0h3v2.5h-3zM476.7 130.6h3v2.5h-3zM481.5 134.2h3v2.5h-3zM468.2 122.6h3v2.5h-3zM475.2 128.7h3v2.5h-3zM482.7 115.1h3v2.5h-3zM482.7 120.8h3v2.5h-3zM480.6 120.1h3v2.5h-3zM477.9 132.0h3v2.5h-3zM476.2 127.0h3v2.5h-3zM481.1 127.9h3v2.5h-3zM476.5 133.3h3v2.5h-3zM482.5 126.1h3v2.5h-3zM491.3 124.2h3v2.5h-3zM481.8 126.1h3v2.5h-3zM477.7 129.7h3v2.5h-3zM478.2 129.5h3v2.5h-3zM469.1 117.4h3v2.5h-3zM480.2 122.5h3v2.5h-3zM471.7 118.2h3v2.5h-3zM483.6 131.2h3v2.5h-3zM484.7 123.7h3v2.5h-3zM477.0 121.0h3v2.5h-3zM481.0 134.6h3v2.5h-3zM472.4 132.4h3v2.5h-3zM482.1 126.6h3v2.5h-3zM466.7 130.4h3v2.5h-3zM476.5 123.3h3v2.5h-3zM479.1 128.6h3v2.5h-3zM484.8 123.3h3v2.5h-3zM482.9 134.5h3v2.5h-3zM484.6 127.2h3v2.5h-3zM473.1 130.1h3v2.5h-3zM477.6 127.0h3v2.5h-3zM484.4 126.7h3v2.5h-3zM465.1 121.7h3v2.5h-3zM467.4 127.8h3v2.5h-3zM478.6 123.8h3v2.5h-3zM477.0 130.1h3v2.5h-3zM477.4 132.5h3v2.5h-3zM476.7 131.0h3v2.5h-3zM484.8 135.5h3v2.5h-3zM473.5 129.5h3v2.5h-3zM467.2 119.0h3v2.5h-3zM466.8 128.9h3v2.5h-3zM470.6 124.7h3v2.5h-3zM476.0 125.9h3v2.5h-3zM473.9 126.6h3v2.5h-3zM486.3 128.6h3v2.5h-3zM479.8 131.5h3v2.5h-3zM476.0 120.2h3v2.5h-3zM474.1 130.6h3v2.5h-3zM468.4 121.5h3v2.5h-3zM482.2 131.1h3v2.5h-3zM477.0 130.0h3v2.5h-3zM477.9 121.0h3v2.5h-3zM468.9 121.4h3v2.5h-3zM481.8 124.7h3v2.5h-3zM472.3 121.6h3v2.5h-3zM469.0 123.9h3v2.5h-3zM470.9 126.5h3v2.5h-3zM464.7 124.9h3v2.5h-3zM473.7 116.5h3v2.5h-3zM480.8 125.8h3v2.5h-3zM465.4 119.5h3v2.5h-3zM478.5 124.5h3v2.5h-3zM481.1 130.7h3v2.5h-3zM480.5 128.6h3v2.5h-3zM483.9 130.9h3v2.5h-3zM479.3 117.1h3v2.5h-3zM481.7 133.4h3v2.5h-3zM475.5 123.7h3v2.5h-3zM487.1 120.4h3v2.5h-3zM479.4 138.1h3v2.5h-3zM472.2 128.3h3v2.5h-3zM486.8 128.0h3v2.5h-3zM479.9 131.1h3v2.5h-3zM472.3 124.7h3v2.5h-3zM478.5 130.4h3v2.5h-3zM476.8 125.3h3v2.5h-3zM471.7 123.4h3v2.5h-3zM481.6 127.8h3v2.5h-3zM472.6 121.3h3v2.5h-3zM490.9 134.7h3v2.5h-3zM480.3 115.0h3v2.5h-3zM480.2 129.2h3v2.5h-3zM485.8 130.3h3v2.5h-3zM476.6 128.6h3v2.5h-3zM466.9 128.7h3v2.5h-3zM478.7 123.4h3v2.5h-3zM483.9 136.2h3v2.5h-3zM469.7 121.5h3v2.5h-3zM478.5 127.5h3v2.5h-3zM474.9 121.2h3v2.5h-3zM488.0 133.6h3v2.5h-3zM470.8 118.6h3v2.5h-3zM485.9 132.9h3v2.5h-3zM486.5 132.2h3v2.5h-3zM472.5 126.4h3v2.5h-3zM465.8 120.2h3v2.5h-3zM476.7 128.6h3v2.5h-3zM473.2 124.8h3v2.5h-3zM479.4 128.6h3v2.5h-3zM480.3 128.0h3v2.5h-3zM475.3 129.5h3v2.5h-3zM477.3 122.5h3v2.5h-3zM473.7 125.5h3v2.5h-3zM476.4 126.8h3v2.5h-3zM477.0 127.1h3v2.5h-3zM476.3 120.2h3v2.5h-3zM479.2 131.7h3v2.5h-3zM479.3 125.9h3v2.5h-3zM479.3 122.3h3v2.5h-3zM467.1 124.3h3v2.5h-3zM472.2 128.6h3v2.5h-3zM471.4 112.7h3v2.5h-3zM471.6 132.3h3v2.5h-3zM475.0 119.4h3v2.5h-3zM473.0 127.8h3v2.5h-3zM479.6 127.7h3v2.5h-3zM484.7 131.3h3v2.5h-3zM476.9 129.0h3v2.5h-3zM485.6 132.7h3v2.5h-3zM482.3 122.4h3v2.5h-3zM476.2 129.5h3v2.5h-3zM475.5 130.9h3v2.5h-3zM480.1 131.2h3v2.5h-3zM475.9 137.8h3v2.5h-3zM483.4 126.7h3v2.5h-3zM477.5 138.4h3v2.5h-3zM475.2 129.9h3v2.5h-3zM482.1 127.5h3v2.5h-3zM470.9 125.7h3v2.5h-3zM478.9 131.9h3v2.5h-3zM481.1 127.3h3v2.5h-3zM481.4 129.8h3v2.5h-3zM478.1 126.8h3v2.5h-3zM475.7 129.1h3v2.5h-3zM471.5 122.1h3v2.5h-3zM477.0 119.5h3v2.5h-3zM474.6 116.0h3v2.5h-3zM472.4 128.7h3v2.5h-3zM483.6 129.2h3v2.5h-3zM476.4 119.7h3v2.5h-3zM495.0 135.9h3v2.5h-3zM488.3 126.4h3v2.5h-3zM476.8 117.7h3v2.5h-3zM485.5 135.0h3v2.5h-3zM461.4 121.8h3v2.5h-3zM484.2 120.5h3v2.5h-3zM462.1 116.7h3v2.5h-3zM472.8 118.6h3v2.5h-3zM478.8 129.1h3v2.5h-3zM484.2 133.3h3v2.5h-3zM492.0 138.3h3v2.5h-3zM466.7 121.2h3v2.5h-3zM469.0 119.0h3v2.5h-3zM477.8 127.5h3v2.5h-3zM482.9 121.0h3v2.5h-3zM467.4 123.9h3v2.5h-3zM476.7 125.5h3v2.5h-3zM477.9 123.6h3v2.5h-3zM484.8 131.7h3v2.5h-3zM477.7 124.0h3v2.5h-3zM476.9 113.1h3v2.5h-3zM469.7 125.0h3v2.5h-3zM465.0 124.3h3v2.5h-3zM479.8 121.0h3v2.5h-3zM476.2 125.4h3v2.5h-3zM482.6 132.3h3v2.5h-3zM478.2 123.2h3v2.5h-3zM477.2 127.0h3v2.5h-3zM485.1 131.5h3v2.5h-3zM472.0 118.5h3v2.5h-3zM475.1 122.8h3v2.5h-3zM468.5 123.8h3v2.5h-3zM474.1 126.8h3v2.5h-3zM483.2 127.2h3v2.5h-3zM499.4 133.1h3v2.5h-3zM488.4 131.7h3v2.5h-3zM488.5 118.8h3v2.5h-3zM471.7 126.8h3v2.5h-3zM483.9 141.7h3v2.5h-3zM481.4 135.4h3v2.5h-3zM485.4 135.0h3v2.5h-3zM479.5 24.5h3v2.5h-3zM479.5 17.5h3v2.5h-3zM481.7 18.5h3v2.5h-3zM478.6 41.5h3v2.5h-3zM477.1 25.2h3v2.5h-3zM481.6 26.3h3v2.5h-3zM475.1 26.6h3v2.5h-3zM479.7 31.1h3v2.5h-3zM475.3 37.9h3v2.5h-3zM483.3 26.7h3v2.5h-3zM478.7 22.2h3v2.5h-3zM482.5 21.0h3v2.5h-3zM480.0 22.1h3v2.5h-3zM475.5 30.2h3v2.5h-3zM482.2 26.2h3v2.5h-3zM475.6 30.9h3v2.5h-3zM477.6 27.6h3v2.5h-3zM482.8 35.0h3v2.5h-3zM476.1 42.1h3v2.5h-3zM477.8 31.2h3v2.5h-3zM475.7 24.4h3v2.5h-3zM472.0 37.4h3v2.5h-3zM482.3 17.1h3v2.5h-3zM472.8 11.8h3v2.5h-3zM481.7 22.7h3v2.5h-3zM477.6 22.8h3v2.5h-3zM477.4 16.9h3v2.5h-3zM477.9 14.4h3v2.5h-3zM477.6 27.5h3v2.5h-3zM479.3 23.9h3v2.5h-3zM474.8 25.8h3v2.5h-3zM476.2 36.7h3v2.5h-3zM480.3 25.0h3v2.5h-3zM476.2 19.6h3v2.5h-3zM474.7 21.9h3v2.5h-3zM478.8 29.4h3v2.5h-3zM479.7 41.6h3v2.5h-3zM475.5 24.8h3v2.5h-3zM487.0 13.3h3v2.5h-3zM476.1 26.1h3v2.5h-3zM478.3 28.5h3v2.5h-3zM477.0 27.8h3v2.5h-3zM478.0 31.1h3v2.5h-3zM471.6 17.1h3v2.5h-3zM477.8 17.4h3v2.5h-3zM474.4 29.2h3v2.5h-3zM475.7 29.6h3v2.5h-3zM480.3 28.1h3v2.5h-3zM479.5 24.8h3v2.5h-3zM473.1 24.0h3v2.5h-3zM479.3 21.6h3v2.5h-3zM477.5 30.8h3v2.5h-3zM474.9 29.4h3v2.5h-3zM483.9 22.5h3v2.5h-3zM478.3 24.2h3v2.5h-3zM482.9 28.8h3v2.5h-3zM480.8 20.7h3v2.5h-3zM477.7 25.2h3v2.5h-3zM471.9 34.8h3v2.5h-3zM480.8 12.7h3v2.5h-3zM480.3 24.8h3v2.5h-3zM479.3 28.4h3v2.5h-3zM472.9 22.5h3v2.5h-3zM482.7 22.0h3v2.5h-3zM474.4 14.2h3v2.5h-3zM473.8 26.9h3v2.5h-3zM483.4 29.8h3v2.5h-3zM478.6 42.3h3v2.5h-3zM476.1 19.8h3v2.5h-3zM479.5 29.8h3v2.5h-3zM474.5 15.6h3v2.5h-3zM478.8 27.3h3v2.5h-3zM473.5 22.7h3v2.5h-3zM476.0 28.3h3v2.5h-3zM477.4 24.5h3v2.5h-3zM476.6 32.9h3v2.5h-3zM482.4 23.5h3v2.5h-3zM480.6 20.2h3v2.5h-3zM478.0 31.0h3v2.5h-3zM482.8 23.5h3v2.5h-3zM477.6 26.7h3v2.5h-3zM472.9 24.2h3v2.5h-3zM475.6 27.5h3v2.5h-3zM474.1 9.4h3v2.5h-3zM477.9 27.2h3v2.5h-3zM476.0 31.6h3v2.5h-3zM476.9 20.5h3v2.5h-3zM479.4 13.8h3v2.5h-3zM475.6 24.6h3v2.5h-3zM480.6 24.7h3v2.5h-3zM478.8 20.5h3v2.5h-3zM478.8 38.1h3v2.5h-3zM475.5 42.6h3v2.5h-3zM475.7 24.9h3v2.5h-3zM478.4 33.1h3v2.5h-3zM473.7 8.4h3v2.5h-3zM479.8 31.7h3v2.5h-3zM479.9 45.6h3v2.5h-3zM478.5 27.3h3v2.5h-3zM480.9 28.7h3v2.5h-3zM483.3 17.2h3v2.5h-3zM480.5 23.1h3v2.5h-3zM480.8 42.2h3v2.5h-3zM477.8 23.3h3v2.5h-3zM476.2 18.5h3v2.5h-3zM475.7 29.6h3v2.5h-3zM477.9 25.8h3v2.5h-3zM477.2 32.0h3v2.5h-3zM479.4 24.6h3v2.5h-3zM480.0 24.6h3v2.5h-3zM474.0 35.4h3v2.5h-3zM479.3 18.4h3v2.5h-3zM481.4 28.7h3v2.5h-3zM472.6 36.2h3v2.5h-3zM478.9 32.2h3v2.5h-3zM478.5 24.3h3v2.5h-3zM472.7 31.4h3v2.5h-3zM477.9 23.1h3v2.5h-3zM479.0 26.1h3v2.5h-3zM480.0 23.0h3v2.5h-3zM477.7 9.0h3v2.5h-3zM476.4 30.0h3v2.5h-3zM482.2 23.5h3v2.5h-3zM477.4 37.1h3v2.5h-3zM476.7 30.6h3v2.5h-3zM483.3 26.8h3v2.5h-3zM481.8 20.8h3v2.5h-3zM478.5 24.8h3v2.5h-3zM478.2 33.9h3v2.5h-3zM485.7 22.0h3v2.5h-3zM475.9 28.6h3v2.5h-3zM474.3 28.2h3v2.5h-3zM479.7 23.6h3v2.5h-3zM479.6 13.9h3v2.5h-3zM480.3 14.1h3v2.5h-3zM475.5 20.5h3v2.5h-3zM476.5 31.4h3v2.5h-3zM478.1 22.3h3v2.5h-3zM479.6 37.6h3v2.5h-3zM477.8 28.0h3v2.5h-3zM481.9 28.2h3v2.5h-3zM473.6 43.1h3v2.5h-3zM485.1 11.9h3v2.5h-3zM477.7 28.4h3v2.5h-3zM481.0 31.0h3v2.5h-3zM476.9 17.1h3v2.5h-3zM478.1 33.1h3v2.5h-3zM474.2 16.7h3v2.5h-3zM477.7 10.6h3v2.5h-3zM476.9 21.8h3v2.5h-3zM479.3 20.3h3v2.5h-3zM474.9 21.6h3v2.5h-3zM477.6 20.2h3v2.5h-3zM477.8 30.9h3v2.5h-3zM481.7 39.0h3v2.5h-3zM475.2 21.5h3v2.5h-3zM469.6 37.7h3v2.5h-3zM475.4 24.4h3v2.5h-3zM479.5 15.4h3v2.5h-3zM479.3 25.4h3v2.5h-3zM471.8 26.1h3v2.5h-3zM481.7 12.0h3v2.5h-3zM480.5 27.4h3v2.5h-3zM479.4 28.9h3v2.5h-3zM482.1 24.5h3v2.5h-3zM480.7 22.8h3v2.5h-3zM480.2 19.6h3v2.5h-3zM477.4 38.3h3v2.5h-3zM479.3 24.4h3v2.5h-3zM474.0 18.4h3v2.5h-3zM478.4 32.5h3v2.5h-3zM479.2 29.5h3v2.5h-3zM477.7 35.4h3v2.5h-3zM476.5 20.8h3v2.5h-3zM480.7 26.4h3v2.5h-3zM476.9 20.7h3v2.5h-3zM477.0 29.8h3v2.5h-3zM479.0 16.4h3v2.5h-3zM479.2 26.9h3v2.5h-3zM474.5 30.3h3v2.5h-3zM476.9 22.5h3v2.5h-3zM480.4 35.8h3v2.5h-3zM475.5 28.0h3v2.5h-3zM474.9 42.1h3v2.5h-3zM476.2 33.9h3v2.5h-3zM475.7 30.9h3v2.5h-3zM485.1 7.7h3v2.5h-3zM476.4 28.7h3v2.5h-3zM477.5 20.1h3v2.5h-3zM487.6 29.5h3v2.5h-3zM461.0 36.4h3v2.5h-3zM460.4 39.1h3v2.5h-3zM468.5 30.1h3v2.5h-3zM481.3 29.8h3v2.5h-3zM462.8 13.5h3v2.5h-3zM480.8 35.4h3v2.5h-3zM466.8 36.5h3v2.5h-3zM476.0 34.6h3v2.5h-3zM456.7 26.0h3v2.5h-3zM478.8 35.4h3v2.5h-3zM478.7 6.6h3v2.5h-3zM473.7 33.2h3v2.5h-3zM490.4 20.2h3v2.5h-3zM470.2 29.1h3v2.5h-3zM478.7 24.8h3v2.5h-3zM480.5 21.7h3v2.5h-3zM474.4 24.0h3v2.5h-3zM473.6 22.5h3v2.5h-3zM461.3 38.6h3v2.5h-3zM474.6 23.7h3v2.5h-3zM473.9 37.7h3v2.5h-3zM465.7 27.8h3v2.5h-3zM476.3 33.5h3v2.5h-3zM470.2 9.8h3v2.5h-3zM481.2 31.7h3v2.5h-3zM472.6 26.2h3v2.5h-3zM474.3 24.9h3v2.5h-3zM465.3 22.1h3v2.5h-3zM468.3 23.2h3v2.5h-3zM464.4 34.5h3v2.5h-3zM463.3 34.7h3v2.5h-3zM465.4 31.9h3v2.5h-3zM482.1 30.6h3v2.5h-3zM467.4 29.2h3v2.5h-3zM473.5 13.1h3v2.5h-3zM468.2 30.2h3v2.5h-3zM469.2 29.5h3v2.5h-3zM477.6 35.6h3v2.5h-3zM478.8 34.0h3v2.5h-3zM461.4 14.7l1.9 3.2h-3.8zM471.5 43.3l1.9 3.2h-3.8zM425.1 77.1l1.9 3.2h-3.8zM461.4 77.1l1.9 3.2h-3.8zM465.9 77.1l1.9 3.2h-3.8zM430.3 88.1l1.9 3.2h-3.8zM444.5 102.1l1.9 3.2h-3.8zM455.4 103.7l1.9 3.2h-3.8zM581.3 96.5l1.9 3.2h-3.8zM590.2 103.7l1.9 3.2h-3.8zM598.5 104.2l1.9 3.2h-3.8zM608.7 118.3l1.9 3.2h-3.8zM573.5 174.2l1.9 3.2h-3.8zM585.3 201.6l1.9 3.2h-3.8zM461.9 210.2l1.9 3.2h-3.8z" fill="#000"/>
<g font-family="'Liberation Serif',serif" font-size="6.7px" fill="#ff1010" stroke="#ff1010" stroke-width="0.18">
<rect x="553.4" y="17.3" width="3" height="2.6" fill="#960000" stroke="none"/>
<text transform="translate(536.9,16.8) scale(1,0.773)" textLength="35.5" lengthAdjust="spacingAndGlyphs">LYS 375 (A)</text>
<rect x="579.7" y="14.6" width="3" height="2.6" fill="#960000" stroke="none"/>
<text transform="translate(563.5,14.2) scale(1,0.773)" textLength="35.5" lengthAdjust="spacingAndGlyphs">THR 373 (A)</text>
<rect x="592.9" y="23.8" width="3" height="2.6" fill="#960000" stroke="none"/>
<text transform="translate(577.3,23.4) scale(1,0.773)" textLength="35.5" lengthAdjust="spacingAndGlyphs">LYS 352 (A)</text>
<rect x="589.2" y="27.0" width="3" height="2.6" fill="#960000" stroke="none"/>
<text transform="translate(573.2,26.3) scale(1,0.773)" textLength="35.5" lengthAdjust="spacingAndGlyphs">SER 351 (A)</text>
<rect x="570.6" y="47.7" width="3" height="2.6" fill="#960000" stroke="none"/>
<text transform="translate(554.7,47.8) scale(1,0.773)" textLength="35.5" lengthAdjust="spacingAndGlyphs">TYR 103 (A)</text>
<rect x="588.4" y="119.0" width="3" height="2.6" fill="#960000" stroke="none"/>
<text transform="translate(571.6,118.4) scale(1,0.773)" textLength="35.5" lengthAdjust="spacingAndGlyphs">CYS 449 (A)</text>
<rect x="589.2" y="135.9" width="3" height="2.6" fill="#960000" stroke="none"/>
<text transform="translate(572.9,135.6) scale(1,0.773)" textLength="35.5" lengthAdjust="spacingAndGlyphs">LEU 158 (A)</text>
<rect x="629.0" y="132.7" width="3" height="2.6" fill="#960000" stroke="none"/>
<text transform="translate(612.9,132.0) scale(1,0.773)" textLength="35.5" lengthAdjust="spacingAndGlyphs">ASP 503 (A)</text>
<rect x="562.6" y="171.7" width="3" height="2.6" fill="#960000" stroke="none"/>
<text transform="translate(546.6,171.2) scale(1,0.773)" textLength="35.5" lengthAdjust="spacingAndGlyphs">LEU 374 (A)</text>
<rect x="569.2" y="187.0" width="3" height="2.6" fill="#960000" stroke="none"/>
<text transform="translate(556.3,187.3) scale(1,0.773)" textLength="35.5" lengthAdjust="spacingAndGlyphs">ASP 496 (A)</text>
<rect x="574.8" y="187.8" width="3" height="2.6" fill="#960000" stroke="none"/>
<text transform="translate(558.5,187.3) scale(1,0.773)" textLength="35.5" lengthAdjust="spacingAndGlyphs">ASN 106 (A)</text>
</g>
<rect x="38.6" y="263.3" width="645.0" height="86.5" fill="#fff" stroke="#8a8a8a" stroke-width="0.7"/>
<path d="M38.6 295.2H683.6M38.6 313.2H683.6" stroke="#909090" stroke-width="0.65" fill="none"/>
<path d="M38.51 349.80v-4.00h2.15v4.00M40.66 349.80v-6.40h2.15v6.40M42.81 349.80v-10.00h2.15v10.00M44.97 349.80v-14.80h2.15v14.80M47.12 349.80v-22.00h2.15v22.00M49.27 349.80v-28.00h2.15v28.00M51.42 349.80v-34.70h2.15v34.70M55.73 349.80v-31.00h2.15v31.00M57.88 349.80v-25.50h2.15v25.50M83.70 349.80v-18.70h2.15v18.70M85.85 349.80v-22.50h2.15v22.50M88.01 349.80v-25.00h2.15v25.00M90.16 349.80v-26.30h2.15v26.30M92.31 349.80v-24.50h2.15v24.50M94.46 349.80v-21.70h2.15v21.70M96.61 349.80v-12.50h2.15v12.50M98.77 349.80v-8.70h2.15v8.70M100.92 349.80v-10.20h2.15v10.20M103.07 349.80v-8.00h2.15v8.00M105.22 349.80v-6.70h2.15v6.70M107.37 349.80v-7.20h2.15v7.20M109.53 349.80v-5.20h2.15v5.20M111.68 349.80v-8.70h2.15v8.70M113.83 349.80v-8.00h2.15v8.00M115.98 349.80v-8.70h2.15v8.70M118.13 349.80v-10.20h2.15v10.20M120.29 349.80v-11.00h2.15v11.00M122.44 349.80v-12.80h2.15v12.80M124.59 349.80v-12.50h2.15v12.50M126.74 349.80v-15.60h2.15v15.60M128.89 349.80v-17.10h2.15v17.10M131.05 349.80v-14.80h2.15v14.80M133.20 349.80v-17.00h2.15v17.00M135.35 349.80v-22.00h2.15v22.00M137.50 349.80v-17.40h2.15v17.40M139.65 349.80v-16.40h2.15v16.40M141.81 349.80v-19.40h2.15v19.40M143.96 349.80v-18.30h2.15v18.30M146.11 349.80v-22.20h2.15v22.20M148.26 349.80v-22.20h2.15v22.20M150.41 349.80v-17.10h2.15v17.10M152.57 349.80v-16.40h2.15v16.40M154.72 349.80v-14.00h2.15v14.00M156.87 349.80v-13.30h2.15v13.30M159.02 349.80v-12.20h2.15v12.20M161.17 349.80v-10.70h2.15v10.70M163.33 349.80v-5.70h2.15v5.70M165.48 349.80v-3.70h2.15v3.70M167.63 349.80v-4.90h2.15v4.90M169.78 349.80v-6.70h2.15v6.70M171.93 349.80v-9.80h2.15v9.80M174.09 349.80v-13.30h2.15v13.30M176.24 349.80v-14.40h2.15v14.40M178.39 349.80v-17.10h2.15v17.10M180.54 349.80v-16.70h2.15v16.70M182.69 349.80v-27.80h2.15v27.80M184.85 349.80v-13.30h2.15v13.30M187.00 349.80v-6.40h2.15v6.40M189.15 349.80v-9.20h2.15v9.20M191.30 349.80v-8.00h2.15v8.00M193.45 349.80v-8.40h2.15v8.40M195.61 349.80v-9.50h2.15v9.50M197.76 349.80v-10.20h2.15v10.20M199.91 349.80v-9.50h2.15v9.50M202.06 349.80v-15.30h2.15v15.30M204.21 349.80v-15.30h2.15v15.30M206.37 349.80v-13.80h2.15v13.80M208.52 349.80v-16.40h2.15v16.40M210.67 349.80v-15.60h2.15v15.60M212.82 349.80v-16.40h2.15v16.40M214.97 349.80v-18.30h2.15v18.30M217.13 349.80v-18.30h2.15v18.30M219.28 349.80v-15.90h2.15v15.90M221.43 349.80v-12.50h2.15v12.50M223.58 349.80v-11.80h2.15v11.80M225.73 349.80v-12.50h2.15v12.50M227.89 349.80v-11.00h2.15v11.00M230.04 349.80v-12.80h2.15v12.80M232.19 349.80v-21.40h2.15v21.40M234.34 349.80v-26.00h2.15v26.00M251.56 349.80v-34.00h2.15v34.00M253.71 349.80v-31.00h2.15v31.00M255.86 349.80v-36.20h2.15v36.20M285.99 349.80v-30.60h2.15v30.60M288.14 349.80v-22.50h2.15v22.50M290.29 349.80v-13.80h2.15v13.80M292.45 349.80v-10.20h2.15v10.20M294.60 349.80v-11.80h2.15v11.80M296.75 349.80v-12.80h2.15v12.80M298.90 349.80v-16.40h2.15v16.40M301.05 349.80v-11.00h2.15v11.00M303.21 349.80v-20.20h2.15v20.20M305.36 349.80v-17.40h2.15v17.40M307.51 349.80v-14.40h2.15v14.40M309.66 349.80v-18.30h2.15v18.30M311.81 349.80v-17.10h2.15v17.10M313.97 349.80v-19.00h2.15v19.00M316.12 349.80v-21.40h2.15v21.40M318.27 349.80v-22.50h2.15v22.50M320.42 349.80v-35.80h2.15v35.80M322.57 349.80v-21.70h2.15v21.70M324.73 349.80v-17.10h2.15v17.10M326.88 349.80v-10.50h2.15v10.50M329.03 349.80v-8.70h2.15v8.70M331.18 349.80v-8.30h2.15v8.30M333.33 349.80v-7.50h2.15v7.50M335.49 349.80v-6.40h2.15v6.40M337.64 349.80v-6.70h2.15v6.70M339.79 349.80v-6.40h2.15v6.40M341.94 349.80v-7.20h2.15v7.20M344.09 349.80v-10.20h2.15v10.20M346.25 349.80v-11.30h2.15v11.30M348.40 349.80v-15.90h2.15v15.90M350.55 349.80v-16.70h2.15v16.70M352.70 349.80v-19.90h2.15v19.90M354.85 349.80v-10.20h2.15v10.20M357.01 349.80v-9.50h2.15v9.50M359.16 349.80v-12.80h2.15v12.80M361.31 349.80v-12.80h2.15v12.80M363.46 349.80v-13.30h2.15v13.30M365.61 349.80v-13.30h2.15v13.30M367.77 349.80v-9.50h2.15v9.50M369.92 349.80v-8.70h2.15v8.70M372.07 349.80v-7.20h2.15v7.20M374.22 349.80v-6.40h2.15v6.40M376.37 349.80v-11.30h2.15v11.30M378.53 349.80v-15.30h2.15v15.30M380.68 349.80v-14.40h2.15v14.40M382.83 349.80v-14.80h2.15v14.80M384.98 349.80v-13.80h2.15v13.80M387.13 349.80v-12.80h2.15v12.80M389.29 349.80v-11.30h2.15v11.30M391.44 349.80v-13.30h2.15v13.30M393.59 349.80v-17.40h2.15v17.40M395.74 349.80v-15.30h2.15v15.30M397.89 349.80v-14.40h2.15v14.40M400.05 349.80v-7.20h2.15v7.20M402.20 349.80v-8.70h2.15v8.70M404.35 349.80v-4.10h2.15v4.10M406.50 349.80v-6.40h2.15v6.40M408.65 349.80v-8.70h2.15v8.70M410.81 349.80v-12.50h2.15v12.50M412.96 349.80v-18.70h2.15v18.70M415.11 349.80v-15.60h2.15v15.60M417.26 349.80v-26.30h2.15v26.30M423.72 349.80v-36.20h2.15v36.20M425.87 349.80v-35.80h2.15v35.80M428.02 349.80v-25.50h2.15v25.50M430.17 349.80v-29.40h2.15v29.40M432.33 349.80v-34.30h2.15v34.30M436.63 349.80v-17.10h2.15v17.10M438.78 349.80v-13.30h2.15v13.30M440.93 349.80v-22.00h2.15v22.00M443.09 349.80v-25.50h2.15v25.50M445.24 349.80v-23.20h2.15v23.20M447.39 349.80v-22.50h2.15v22.50M449.54 349.80v-14.40h2.15v14.40M451.69 349.80v-18.30h2.15v18.30M453.85 349.80v-15.30h2.15v15.30M456.00 349.80v-13.30h2.15v13.30M458.15 349.80v-17.90h2.15v17.90M460.30 349.80v-8.30h2.15v8.30M462.45 349.80v-7.20h2.15v7.20M464.61 349.80v-9.50h2.15v9.50M466.76 349.80v-15.90h2.15v15.90M468.91 349.80v-26.00h2.15v26.00M471.06 349.80v-21.70h2.15v21.70M473.21 349.80v-19.00h2.15v19.00M475.37 349.80v-23.50h2.15v23.50M477.52 349.80v-23.50h2.15v23.50M479.67 349.80v-24.50h2.15v24.50M481.82 349.80v-25.50h2.15v25.50M488.28 349.80v-34.00h2.15v34.00M501.19 349.80v-30.60h2.15v30.60M503.34 349.80v-26.60h2.15v26.60M505.49 349.80v-25.80h2.15v25.80M507.65 349.80v-25.50h2.15v25.50M509.80 349.80v-26.30h2.15v26.30M511.95 349.80v-21.70h2.15v21.70M514.10 349.80v-19.00h2.15v19.00M516.25 349.80v-21.40h2.15v21.40M518.41 349.80v-33.60h2.15v33.60M520.56 349.80v-30.60h2.15v30.60M527.01 349.80v-36.20h2.15v36.20M529.17 349.80v-34.70h2.15v34.70M531.32 349.80v-27.50h2.15v27.50M533.47 349.80v-34.70h2.15v34.70M537.77 349.80v-35.50h2.15v35.50M539.93 349.80v-27.50h2.15v27.50M542.08 349.80v-30.10h2.15v30.10M544.23 349.80v-34.30h2.15v34.30M546.38 349.80v-18.30h2.15v18.30M548.53 349.80v-15.60h2.15v15.60M550.69 349.80v-16.80h2.15v16.80M552.84 349.80v-13.30h2.15v13.30M554.99 349.80v-8.70h2.15v8.70M557.14 349.80v-15.30h2.15v15.30M559.29 349.80v-17.90h2.15v17.90M561.45 349.80v-27.10h2.15v27.10M585.12 349.80v-31.20h2.15v31.20M587.27 349.80v-29.40h2.15v29.40M589.42 349.80v-28.60h2.15v28.60M591.57 349.80v-28.60h2.15v28.60M598.03 349.80v-34.00h2.15v34.00M602.33 349.80v-20.50h2.15v20.50M604.49 349.80v-23.50h2.15v23.50M606.64 349.80v-27.00h2.15v27.00M608.79 349.80v-15.60h2.15v15.60M610.94 349.80v-21.40h2.15v21.40M613.09 349.80v-18.70h2.15v18.70M615.25 349.80v-32.10h2.15v32.10M617.40 349.80v-25.00h2.15v25.00M619.55 349.80v-19.90h2.15v19.90M621.70 349.80v-14.00h2.15v14.00M623.85 349.80v-9.50h2.15v9.50M626.01 349.80v-8.30h2.15v8.30M628.16 349.80v-8.00h2.15v8.00M630.31 349.80v-13.30h2.15v13.30M632.46 349.80v-20.90h2.15v20.90M634.61 349.80v-23.20h2.15v23.20M636.77 349.80v-23.50h2.15v23.50M638.92 349.80v-25.50h2.15v25.50M643.22 349.80v-26.30h2.15v26.30M645.37 349.80v-26.60h2.15v26.60M647.53 349.80v-23.20h2.15v23.20M649.68 349.80v-20.50h2.15v20.50M651.83 349.80v-20.50h2.15v20.50M653.98 349.80v-26.30h2.15v26.30M658.29 349.80v-33.20h2.15v33.20M660.44 349.80v-33.20h2.15v33.20" fill="#f0f0f0" stroke="#505050" stroke-width="0.42"/>
<path d="M53.57 349.80v-38.50h2.15v38.50M236.49 349.80v-38.50h2.15v38.50M238.65 349.80v-50.20h2.15v50.20M245.10 349.80v-51.30h2.15v51.30M247.25 349.80v-54.00h2.15v54.00M249.41 349.80v-48.70h2.15v48.70M258.01 349.80v-37.30h2.15v37.30M260.17 349.80v-37.30h2.15v37.30M264.47 349.80v-48.20h2.15v48.20M281.69 349.80v-50.20h2.15v50.20M283.84 349.80v-52.20h2.15v52.20M419.41 349.80v-41.30h2.15v41.30M421.57 349.80v-37.30h2.15v37.30M434.48 349.80v-45.00h2.15v45.00M483.97 349.80v-42.80h2.15v42.80M486.13 349.80v-48.40h2.15v48.40M496.89 349.80v-48.20h2.15v48.20M499.04 349.80v-40.00h2.15v40.00M522.71 349.80v-37.30h2.15v37.30M524.86 349.80v-44.80h2.15v44.80M535.62 349.80v-44.80h2.15v44.80M570.05 349.80v-36.20h2.15v36.20M580.81 349.80v-52.30h2.15v52.30M595.88 349.80v-36.70h2.15v36.70M600.18 349.80v-37.30h2.15v37.30M641.07 349.80v-41.90h2.15v41.90M656.13 349.80v-39.80h2.15v39.80M662.59 349.80v-39.30h2.15v39.30M664.74 349.80v-38.50h2.15v38.50M671.20 349.80v-50.70h2.15v50.70M675.50 349.80v-52.80h2.15v52.80" fill="#e6e000" stroke="#77770a" stroke-width="0.45"/>
<path d="M240.80 349.80v-58.90h2.15v58.90M242.95 349.80v-55.60h2.15v55.60M262.32 349.80v-57.10h2.15v57.10M266.62 349.80v-60.50h2.15v60.50M268.77 349.80v-78.50h2.15v78.50M270.93 349.80v-70.60h2.15v70.60M273.08 349.80v-70.90h2.15v70.90M275.23 349.80v-69.30h2.15v69.30M277.38 349.80v-81.30h2.15v81.30M279.53 349.80v-66.00h2.15v66.00M490.43 349.80v-85.80h2.15v85.80M492.58 349.80v-74.20h2.15v74.20M494.73 349.80v-56.30h2.15v56.30M565.75 349.80v-61.70h2.15v61.70M666.89 349.80v-60.50h2.15v60.50M669.05 349.80v-57.10h2.15v57.10M673.35 349.80v-57.40h2.15v57.40M677.65 349.80v-66.60h2.15v66.60M679.81 349.80v-65.10h2.15v65.10M681.96 349.80v-69.30h2.15v69.30" fill="#d80000" stroke="#8a0000" stroke-width="0.45"/>
<path d="M38.6 349.8H683.6" stroke="#555" stroke-width="0.8"/>
<path d="M50.34 349.8v1.5M71.86 349.8v1.5M93.38 349.8v1.5M114.90 349.8v1.5M136.42 349.8v1.5M157.94 349.8v1.5M179.46 349.8v1.5M200.98 349.8v1.5M222.50 349.8v1.5M244.02 349.8v1.5M265.54 349.8v1.5M287.06 349.8v1.5M308.58 349.8v1.5M330.10 349.8v1.5M351.62 349.8v1.5M373.14 349.8v1.5M394.66 349.8v1.5M416.18 349.8v1.5M437.70 349.8v1.5M459.22 349.8v1.5M480.74 349.8v1.5M502.26 349.8v1.5M523.78 349.8v1.5M545.30 349.8v1.5M566.82 349.8v1.5M588.34 349.8v1.5M609.86 349.8v1.5M631.38 349.8v1.5M652.90 349.8v1.5M674.42 349.8v1.5" stroke="#555" stroke-width="0.5"/>
<g font-family="'Liberation Sans',sans-serif" font-size="7.2px" fill="#333">
<text x="71.9" y="356.6" text-anchor="middle" textLength="11.0" lengthAdjust="spacingAndGlyphs">20</text>
<text x="114.9" y="356.6" text-anchor="middle" textLength="11.0" lengthAdjust="spacingAndGlyphs">40</text>
<text x="157.9" y="356.6" text-anchor="middle" textLength="11.0" lengthAdjust="spacingAndGlyphs">60</text>
<text x="201.0" y="356.6" text-anchor="middle" textLength="11.0" lengthAdjust="spacingAndGlyphs">80</text>
<text x="244.0" y="356.6" text-anchor="middle" textLength="15.5" lengthAdjust="spacingAndGlyphs">100</text>
<text x="287.1" y="356.6" text-anchor="middle" textLength="15.5" lengthAdjust="spacingAndGlyphs">120</text>
<text x="330.1" y="356.6" text-anchor="middle" textLength="15.5" lengthAdjust="spacingAndGlyphs">140</text>
<text x="373.1" y="356.6" text-anchor="middle" textLength="15.5" lengthAdjust="spacingAndGlyphs">160</text>
<text x="416.2" y="356.6" text-anchor="middle" textLength="15.5" lengthAdjust="spacingAndGlyphs">180</text>
<text x="459.2" y="356.6" text-anchor="middle" textLength="15.5" lengthAdjust="spacingAndGlyphs">200</text>
<text x="502.3" y="356.6" text-anchor="middle" textLength="15.5" lengthAdjust="spacingAndGlyphs">220</text>
<text x="545.3" y="356.6" text-anchor="middle" textLength="15.5" lengthAdjust="spacingAndGlyphs">240</text>
<text x="588.3" y="356.6" text-anchor="middle" textLength="15.5" lengthAdjust="spacingAndGlyphs">260</text>
<text x="631.4" y="356.6" text-anchor="middle" textLength="15.5" lengthAdjust="spacingAndGlyphs">280</text>
<text x="674.4" y="356.6" text-anchor="middle" textLength="15.5" lengthAdjust="spacingAndGlyphs">300</text>
<text x="291" y="363.2" font-size="8px" textLength="149.5" lengthAdjust="spacingAndGlyphs" stroke="#333" stroke-width="0.25">Residue # (window center)</text>
<text x="15" y="297.3" font-size="6.4px" textLength="18.5" lengthAdjust="spacingAndGlyphs">99%</text>
<text x="15" y="315.3" font-size="6.4px" textLength="18.5" lengthAdjust="spacingAndGlyphs">95%</text>
<text transform="translate(11.8,301.5) rotate(-90)" text-anchor="middle" font-size="13px" textLength="39" lengthAdjust="spacingAndGlyphs">Error value*</text>
</g>
<g font-family="'Liberation Sans',sans-serif" font-weight="bold" font-size="14.5px" fill="#000" stroke="#000" stroke-width="0.9" stroke-linejoin="round">
<text x="3.6" y="12.4" textLength="26" lengthAdjust="spacingAndGlyphs">A).</text>
<text x="330.2" y="12.4" textLength="24.5" lengthAdjust="spacingAndGlyphs">B).</text>
<text x="3.6" y="250.8" textLength="26" lengthAdjust="spacingAndGlyphs">C).</text>
</g>
</svg></body></html>
